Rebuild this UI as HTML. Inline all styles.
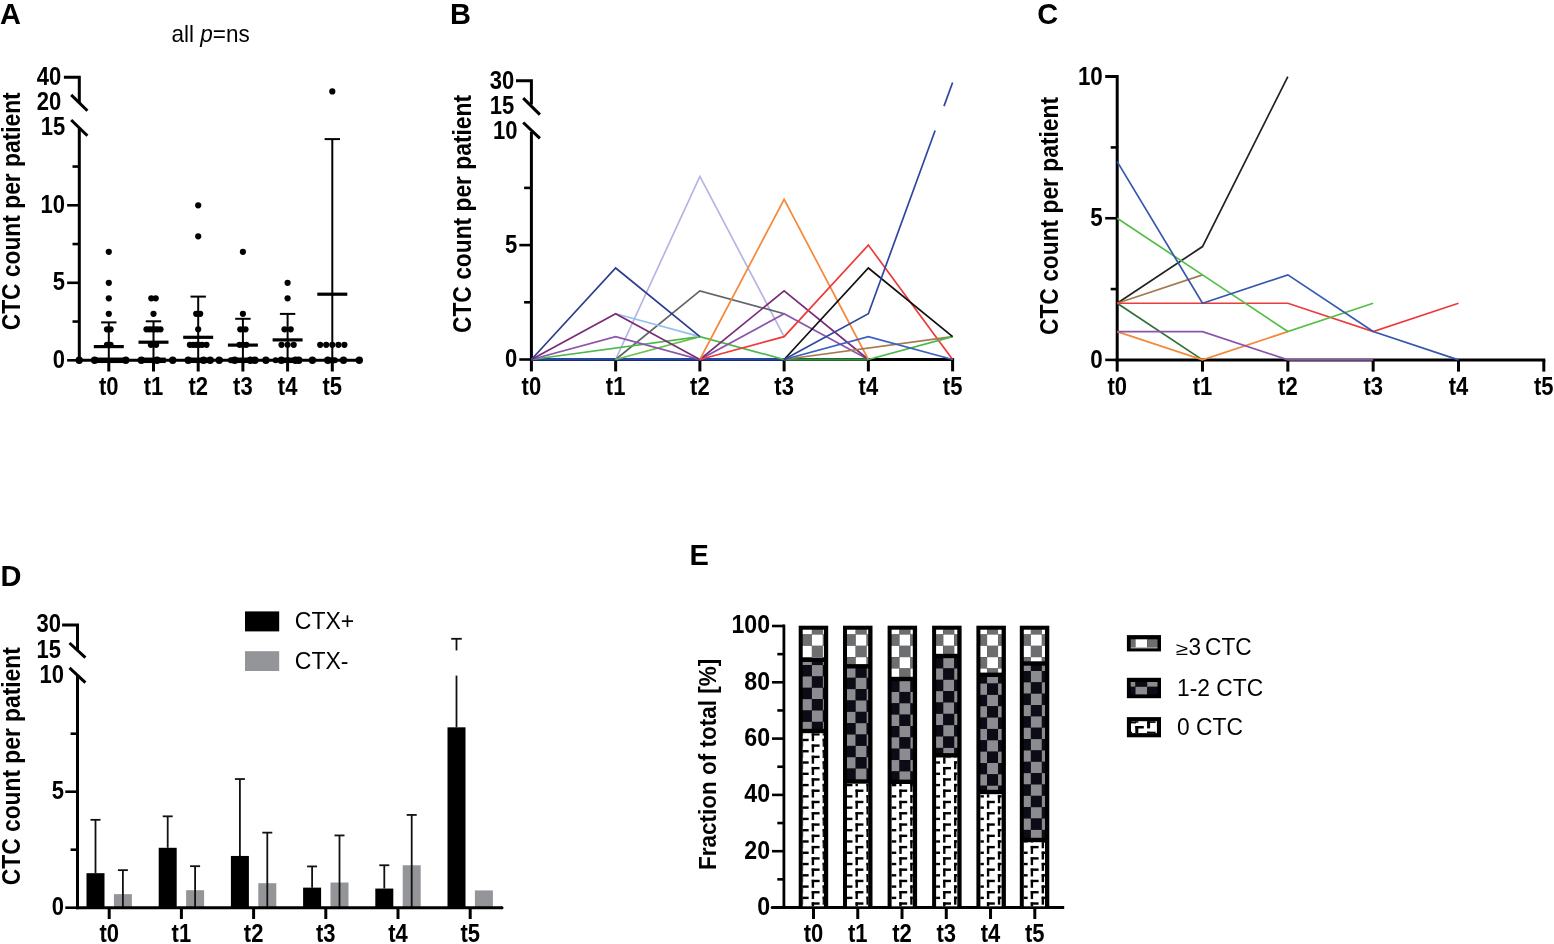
<!DOCTYPE html>
<html><head><meta charset="utf-8"><title>Figure</title>
<style>
html,body{margin:0;padding:0;background:#fff;}
body{width:1554px;height:944px;overflow:hidden;}
svg{display:block;font-family:"Liberation Sans", Arial, Helvetica, sans-serif;}
</style></head>
<body>
<svg width="1554" height="944" viewBox="0 0 1554 944" fill="#000">
<rect x="0" y="0" width="1554" height="944" fill="#fff"/>
<text transform="translate(-0.10,23.90) scale(1,1.02)" font-size="29" font-weight="bold" text-anchor="start" >A</text>
<text transform="translate(450.10,23.90) scale(1,1.02)" font-size="29" font-weight="bold" text-anchor="start" >B</text>
<text transform="translate(1037.20,24.10) scale(1,1.02)" font-size="29" font-weight="bold" text-anchor="start" >C</text>
<text transform="translate(0.60,585.60) scale(1,1.02)" font-size="29" font-weight="bold" text-anchor="start" >D</text>
<text transform="translate(689.50,564.80) scale(1,1.02)" font-size="29" font-weight="bold" text-anchor="start" >E</text>
<text transform="translate(171.6,42.2) scale(1,1.04)" font-size="22.5" text-anchor="start">all <tspan font-style="italic">p</tspan>=ns</text>
<path d="M63.9,77.3 H79.3 V102.7" fill="none" stroke="#000" stroke-width="3" stroke-linejoin="miter"/>
<line x1="79.30" y1="127.80" x2="79.30" y2="361.80" stroke="#000" stroke-width="3" stroke-linecap="butt"/>
<line x1="71.20" y1="94.90" x2="87.40" y2="110.70" stroke="#000" stroke-width="3" stroke-linecap="butt"/>
<line x1="71.20" y1="120.00" x2="87.40" y2="135.80" stroke="#000" stroke-width="3" stroke-linecap="butt"/>
<line x1="67.10" y1="360.30" x2="79.30" y2="360.30" stroke="#000" stroke-width="2.6" stroke-linecap="butt"/>
<line x1="67.10" y1="282.80" x2="79.30" y2="282.80" stroke="#000" stroke-width="2.6" stroke-linecap="butt"/>
<line x1="67.10" y1="205.30" x2="79.30" y2="205.30" stroke="#000" stroke-width="2.6" stroke-linecap="butt"/>
<line x1="72.50" y1="321.55" x2="79.30" y2="321.55" stroke="#000" stroke-width="2.6" stroke-linecap="butt"/>
<line x1="72.50" y1="244.05" x2="79.30" y2="244.05" stroke="#000" stroke-width="2.6" stroke-linecap="butt"/>
<line x1="72.50" y1="166.55" x2="79.30" y2="166.55" stroke="#000" stroke-width="2.6" stroke-linecap="butt"/>
<text transform="translate(65.00,367.70) scale(1,1.13)" font-size="22" font-weight="bold" text-anchor="end" >0</text>
<text transform="translate(65.00,290.20) scale(1,1.13)" font-size="22" font-weight="bold" text-anchor="end" >5</text>
<text transform="translate(65.00,212.70) scale(1,1.13)" font-size="22" font-weight="bold" text-anchor="end" >10</text>
<text transform="translate(65.30,134.90) scale(1,1.13)" font-size="22" font-weight="bold" text-anchor="end" >15</text>
<text transform="translate(61.30,109.90) scale(1,1.13)" font-size="22" font-weight="bold" text-anchor="end" >20</text>
<text transform="translate(61.30,84.70) scale(1,1.13)" font-size="22" font-weight="bold" text-anchor="end" >40</text>
<line x1="77.80" y1="360.30" x2="361.00" y2="360.30" stroke="#000" stroke-width="3" stroke-linecap="butt"/>
<line x1="108.80" y1="360.30" x2="108.80" y2="371.50" stroke="#000" stroke-width="3" stroke-linecap="butt"/>
<text transform="translate(108.80,395.20) scale(1,1.13)" font-size="22" font-weight="bold" text-anchor="middle" >t0</text>
<line x1="153.50" y1="360.30" x2="153.50" y2="371.50" stroke="#000" stroke-width="3" stroke-linecap="butt"/>
<text transform="translate(153.50,395.20) scale(1,1.13)" font-size="22" font-weight="bold" text-anchor="middle" >t1</text>
<line x1="198.20" y1="360.30" x2="198.20" y2="371.50" stroke="#000" stroke-width="3" stroke-linecap="butt"/>
<text transform="translate(198.20,395.20) scale(1,1.13)" font-size="22" font-weight="bold" text-anchor="middle" >t2</text>
<line x1="242.90" y1="360.30" x2="242.90" y2="371.50" stroke="#000" stroke-width="3" stroke-linecap="butt"/>
<text transform="translate(242.90,395.20) scale(1,1.13)" font-size="22" font-weight="bold" text-anchor="middle" >t3</text>
<line x1="287.60" y1="360.30" x2="287.60" y2="371.50" stroke="#000" stroke-width="3" stroke-linecap="butt"/>
<text transform="translate(287.60,395.20) scale(1,1.13)" font-size="22" font-weight="bold" text-anchor="middle" >t4</text>
<line x1="332.30" y1="360.30" x2="332.30" y2="371.50" stroke="#000" stroke-width="3" stroke-linecap="butt"/>
<text transform="translate(332.30,395.20) scale(1,1.13)" font-size="22" font-weight="bold" text-anchor="middle" >t5</text>
<text transform="translate(19.80,211.30) rotate(-90) scale(1,1.1)" font-size="22.8" font-weight="bold" text-anchor="middle">CTC count per patient</text>
<line x1="108.80" y1="322.40" x2="108.80" y2="360.30" stroke="#000" stroke-width="2" stroke-linecap="butt"/>
<line x1="101.10" y1="322.40" x2="116.50" y2="322.40" stroke="#000" stroke-width="2" stroke-linecap="butt"/>
<line x1="93.80" y1="346.60" x2="123.80" y2="346.60" stroke="#000" stroke-width="3.2" stroke-linecap="butt"/>
<line x1="153.50" y1="321.30" x2="153.50" y2="360.30" stroke="#000" stroke-width="2" stroke-linecap="butt"/>
<line x1="145.80" y1="321.30" x2="161.20" y2="321.30" stroke="#000" stroke-width="2" stroke-linecap="butt"/>
<line x1="138.50" y1="342.20" x2="168.50" y2="342.20" stroke="#000" stroke-width="3.2" stroke-linecap="butt"/>
<line x1="198.20" y1="296.60" x2="198.20" y2="360.30" stroke="#000" stroke-width="2" stroke-linecap="butt"/>
<line x1="190.50" y1="296.60" x2="205.90" y2="296.60" stroke="#000" stroke-width="2" stroke-linecap="butt"/>
<line x1="183.20" y1="337.30" x2="213.20" y2="337.30" stroke="#000" stroke-width="3.2" stroke-linecap="butt"/>
<line x1="242.90" y1="318.80" x2="242.90" y2="360.30" stroke="#000" stroke-width="2" stroke-linecap="butt"/>
<line x1="235.20" y1="318.80" x2="250.60" y2="318.80" stroke="#000" stroke-width="2" stroke-linecap="butt"/>
<line x1="227.90" y1="345.10" x2="257.90" y2="345.10" stroke="#000" stroke-width="3.2" stroke-linecap="butt"/>
<line x1="287.60" y1="313.90" x2="287.60" y2="360.30" stroke="#000" stroke-width="2" stroke-linecap="butt"/>
<line x1="279.90" y1="313.90" x2="295.30" y2="313.90" stroke="#000" stroke-width="2" stroke-linecap="butt"/>
<line x1="272.60" y1="339.90" x2="302.60" y2="339.90" stroke="#000" stroke-width="3.2" stroke-linecap="butt"/>
<line x1="332.30" y1="139.10" x2="332.30" y2="360.30" stroke="#000" stroke-width="2" stroke-linecap="butt"/>
<line x1="324.60" y1="139.10" x2="340.00" y2="139.10" stroke="#000" stroke-width="2" stroke-linecap="butt"/>
<line x1="317.30" y1="294.20" x2="347.30" y2="294.20" stroke="#000" stroke-width="3.2" stroke-linecap="butt"/>
<circle cx="108.80" cy="251.80" r="3.1"/>
<circle cx="108.80" cy="282.80" r="3.1"/>
<circle cx="108.80" cy="298.30" r="3.1"/>
<circle cx="108.80" cy="313.80" r="3.1"/>
<circle cx="107.00" cy="329.30" r="3.1"/>
<circle cx="110.60" cy="329.30" r="3.1"/>
<circle cx="107.00" cy="344.80" r="3.1"/>
<circle cx="110.60" cy="344.80" r="3.1"/>
<circle cx="151.30" cy="298.30" r="3.1"/>
<circle cx="155.70" cy="298.30" r="3.1"/>
<circle cx="153.50" cy="313.80" r="3.1"/>
<circle cx="146.50" cy="329.30" r="3.1"/>
<circle cx="149.50" cy="329.30" r="3.1"/>
<circle cx="152.50" cy="329.30" r="3.1"/>
<circle cx="154.50" cy="329.30" r="3.1"/>
<circle cx="157.50" cy="329.30" r="3.1"/>
<circle cx="160.50" cy="329.30" r="3.1"/>
<circle cx="150.90" cy="344.80" r="3.1"/>
<circle cx="156.10" cy="344.80" r="3.1"/>
<circle cx="198.20" cy="205.30" r="3.1"/>
<circle cx="198.20" cy="236.30" r="3.1"/>
<circle cx="196.20" cy="313.80" r="3.1"/>
<circle cx="200.20" cy="313.80" r="3.1"/>
<circle cx="198.20" cy="329.30" r="3.1"/>
<circle cx="189.90" cy="344.80" r="3.1"/>
<circle cx="193.20" cy="344.80" r="3.1"/>
<circle cx="196.20" cy="344.80" r="3.1"/>
<circle cx="199.20" cy="344.80" r="3.1"/>
<circle cx="202.20" cy="344.80" r="3.1"/>
<circle cx="206.50" cy="344.80" r="3.1"/>
<circle cx="242.90" cy="251.80" r="3.1"/>
<circle cx="242.90" cy="313.80" r="3.1"/>
<circle cx="240.30" cy="329.30" r="3.1"/>
<circle cx="245.50" cy="329.30" r="3.1"/>
<circle cx="239.50" cy="344.80" r="3.1"/>
<circle cx="242.90" cy="344.80" r="3.1"/>
<circle cx="246.30" cy="344.80" r="3.1"/>
<circle cx="287.60" cy="282.80" r="3.1"/>
<circle cx="287.60" cy="298.30" r="3.1"/>
<circle cx="284.50" cy="329.30" r="3.1"/>
<circle cx="290.70" cy="329.30" r="3.1"/>
<circle cx="281.50" cy="344.80" r="3.1"/>
<circle cx="287.60" cy="344.80" r="3.1"/>
<circle cx="293.70" cy="344.80" r="3.1"/>
<circle cx="320.20" cy="344.80" r="3.1"/>
<circle cx="326.20" cy="344.80" r="3.1"/>
<circle cx="332.30" cy="344.80" r="3.1"/>
<circle cx="338.40" cy="344.80" r="3.1"/>
<circle cx="344.40" cy="344.80" r="3.1"/>
<circle cx="332.30" cy="91.40" r="3.1"/>
<circle cx="79.20" cy="360.30" r="3.7"/>
<circle cx="94.60" cy="360.30" r="3.7"/>
<circle cx="125.80" cy="360.30" r="3.7"/>
<circle cx="141.30" cy="360.30" r="3.7"/>
<circle cx="157.00" cy="360.30" r="3.7"/>
<circle cx="172.70" cy="360.30" r="3.7"/>
<circle cx="188.20" cy="360.30" r="3.7"/>
<circle cx="203.60" cy="360.30" r="3.7"/>
<circle cx="210.20" cy="360.30" r="3.7"/>
<circle cx="219.20" cy="360.30" r="3.7"/>
<circle cx="234.70" cy="360.30" r="3.7"/>
<circle cx="250.40" cy="360.30" r="3.7"/>
<circle cx="254.90" cy="360.30" r="3.7"/>
<circle cx="265.90" cy="360.30" r="3.7"/>
<circle cx="281.30" cy="360.30" r="3.7"/>
<circle cx="295.50" cy="360.30" r="3.7"/>
<circle cx="298.80" cy="360.30" r="3.7"/>
<circle cx="312.40" cy="360.30" r="3.7"/>
<circle cx="327.80" cy="360.30" r="3.7"/>
<circle cx="343.50" cy="360.30" r="3.7"/>
<circle cx="359.30" cy="360.30" r="3.7"/>
<circle cx="230.80" cy="360.30" r="3.0"/>
<circle cx="275.60" cy="360.30" r="3.0"/>
<circle cx="287.60" cy="360.30" r="3.0"/>
<circle cx="334.90" cy="360.30" r="3.0"/>
<rect x="94.60" y="357.55" width="31.20" height="5.50" fill="#000"/>
<rect x="141.30" y="357.55" width="24.40" height="5.50" fill="#000"/>
<rect x="188.20" y="357.55" width="22.00" height="5.50" fill="#000"/>
<rect x="230.80" y="357.55" width="24.10" height="5.50" fill="#000"/>
<rect x="281.30" y="357.55" width="17.50" height="5.50" fill="#000"/>
<rect x="327.80" y="357.55" width="7.10" height="5.50" fill="#000"/>
<text transform="translate(471.00,214.00) rotate(-90) scale(1,1.1)" font-size="22.8" font-weight="bold" text-anchor="middle">CTC count per patient</text>
<line x1="519.30" y1="359.50" x2="531.40" y2="359.50" stroke="#000" stroke-width="2.6" stroke-linecap="butt"/>
<line x1="519.30" y1="245.10" x2="531.40" y2="245.10" stroke="#000" stroke-width="2.6" stroke-linecap="butt"/>
<line x1="524.10" y1="302.30" x2="531.40" y2="302.30" stroke="#000" stroke-width="2.6" stroke-linecap="butt"/>
<line x1="524.10" y1="187.90" x2="531.40" y2="187.90" stroke="#000" stroke-width="2.6" stroke-linecap="butt"/>
<text transform="translate(517.20,367.20) scale(1,1.13)" font-size="22" font-weight="bold" text-anchor="end" >0</text>
<text transform="translate(517.20,252.80) scale(1,1.13)" font-size="22" font-weight="bold" text-anchor="end" >5</text>
<text transform="translate(517.40,138.70) scale(1,1.13)" font-size="22" font-weight="bold" text-anchor="end" >10</text>
<text transform="translate(514.30,113.90) scale(1,1.13)" font-size="22" font-weight="bold" text-anchor="end" >15</text>
<text transform="translate(514.30,88.80) scale(1,1.13)" font-size="22" font-weight="bold" text-anchor="end" >30</text>
<text transform="translate(531.40,394.90) scale(1,1.13)" font-size="22" font-weight="bold" text-anchor="middle" >t0</text>
<text transform="translate(615.64,394.90) scale(1,1.13)" font-size="22" font-weight="bold" text-anchor="middle" >t1</text>
<text transform="translate(699.88,394.90) scale(1,1.13)" font-size="22" font-weight="bold" text-anchor="middle" >t2</text>
<text transform="translate(784.12,394.90) scale(1,1.13)" font-size="22" font-weight="bold" text-anchor="middle" >t3</text>
<text transform="translate(868.36,394.90) scale(1,1.13)" font-size="22" font-weight="bold" text-anchor="middle" >t4</text>
<text transform="translate(952.60,394.90) scale(1,1.13)" font-size="22" font-weight="bold" text-anchor="middle" >t5</text>
<path d="M516,80.7 H531.4 V104.5" fill="none" stroke="#000" stroke-width="3" stroke-linejoin="miter"/>
<line x1="531.40" y1="132.00" x2="531.40" y2="361.00" stroke="#000" stroke-width="3" stroke-linecap="butt"/>
<line x1="523.20" y1="98.10" x2="539.90" y2="114.60" stroke="#000" stroke-width="3" stroke-linecap="butt"/>
<line x1="523.20" y1="122.50" x2="539.90" y2="138.40" stroke="#000" stroke-width="3" stroke-linecap="butt"/>
<line x1="529.90" y1="359.50" x2="954.10" y2="359.50" stroke="#000" stroke-width="3" stroke-linecap="butt"/>
<line x1="531.40" y1="359.50" x2="531.40" y2="371.40" stroke="#000" stroke-width="3" stroke-linecap="butt"/>
<line x1="615.64" y1="359.50" x2="615.64" y2="371.40" stroke="#000" stroke-width="3" stroke-linecap="butt"/>
<line x1="699.88" y1="359.50" x2="699.88" y2="371.40" stroke="#000" stroke-width="3" stroke-linecap="butt"/>
<line x1="784.12" y1="359.50" x2="784.12" y2="371.40" stroke="#000" stroke-width="3" stroke-linecap="butt"/>
<line x1="868.36" y1="359.50" x2="868.36" y2="371.40" stroke="#000" stroke-width="3" stroke-linecap="butt"/>
<line x1="952.60" y1="359.50" x2="952.60" y2="371.40" stroke="#000" stroke-width="3" stroke-linecap="butt"/>
<polyline points="531.40,359.30 784.12,359.30" fill="none" stroke="#24479E" stroke-width="2.6" stroke-linejoin="miter" stroke-linecap="butt"/>
<polyline points="531.40,360.50 784.12,360.50" fill="none" stroke="#1B2A6E" stroke-width="1.0" stroke-linejoin="miter" stroke-linecap="butt"/>
<polyline points="784.12,359.50 868.36,359.50" fill="none" stroke="#2E8B3E" stroke-width="2.4" stroke-linejoin="miter" stroke-linecap="butt"/>
<polyline points="615.64,359.50 699.88,176.46 784.12,336.62" fill="none" stroke="#B5B5E3" stroke-width="1.7" stroke-linejoin="miter" stroke-linecap="butt"/>
<polyline points="615.64,359.50 699.88,290.86 784.12,313.74" fill="none" stroke="#5F6566" stroke-width="1.7" stroke-linejoin="miter" stroke-linecap="butt"/>
<polyline points="615.64,359.50 699.88,336.62" fill="none" stroke="#6DC14C" stroke-width="1.7" stroke-linejoin="miter" stroke-linecap="butt"/>
<polyline points="531.40,359.50 699.88,336.62 784.12,359.50" fill="none" stroke="#4CB84C" stroke-width="1.7" stroke-linejoin="miter" stroke-linecap="butt"/>
<polyline points="615.64,313.74 699.88,336.62" fill="none" stroke="#92C1EC" stroke-width="1.7" stroke-linejoin="miter" stroke-linecap="butt"/>
<polyline points="531.40,359.50 615.64,336.62 699.88,359.50 784.12,313.74 868.36,359.50" fill="none" stroke="#8A55AB" stroke-width="1.7" stroke-linejoin="miter" stroke-linecap="butt"/>
<polyline points="531.40,359.50 615.64,313.74 699.88,359.50 784.12,290.86 868.36,359.50" fill="none" stroke="#7A2C78" stroke-width="1.7" stroke-linejoin="miter" stroke-linecap="butt"/>
<polyline points="531.40,359.50 615.64,267.98 699.88,336.62" fill="none" stroke="#2E3C8E" stroke-width="1.7" stroke-linejoin="miter" stroke-linecap="butt"/>
<polyline points="699.88,359.50 784.12,199.34 868.36,359.50" fill="none" stroke="#F4883A" stroke-width="1.7" stroke-linejoin="miter" stroke-linecap="butt"/>
<polyline points="699.88,359.50 784.12,336.62 868.36,245.10 952.60,359.50" fill="none" stroke="#EE3A3A" stroke-width="1.7" stroke-linejoin="miter" stroke-linecap="butt"/>
<polyline points="784.12,359.50 952.60,336.62" fill="none" stroke="#A37A4E" stroke-width="1.7" stroke-linejoin="miter" stroke-linecap="butt"/>
<polyline points="868.36,359.50 952.60,336.62" fill="none" stroke="#4CB84C" stroke-width="1.7" stroke-linejoin="miter" stroke-linecap="butt"/>
<polyline points="784.12,359.50 868.36,336.62 952.60,359.50" fill="none" stroke="#3A5FBE" stroke-width="1.7" stroke-linejoin="miter" stroke-linecap="butt"/>
<polyline points="784.12,359.50 868.36,267.98 952.60,336.62" fill="none" stroke="#111111" stroke-width="1.7" stroke-linejoin="miter" stroke-linecap="butt"/>
<polyline points="784.12,359.50 868.36,313.74 935.11,130.50" fill="none" stroke="#3047A0" stroke-width="1.7" stroke-linejoin="miter" stroke-linecap="butt"/>
<polyline points="944.00,106.10 952.60,82.50" fill="none" stroke="#3047A0" stroke-width="1.7" stroke-linejoin="miter" stroke-linecap="butt"/>
<text transform="translate(1057.80,216.00) rotate(-90) scale(1,1.1)" font-size="22.8" font-weight="bold" text-anchor="middle">CTC count per patient</text>
<path d="M1105.2,76.60000000000002 H1117.2 V361.4" fill="none" stroke="#000" stroke-width="3" stroke-linejoin="miter"/>
<line x1="1105.20" y1="359.90" x2="1117.20" y2="359.90" stroke="#000" stroke-width="2.6" stroke-linecap="butt"/>
<line x1="1105.20" y1="218.25" x2="1117.20" y2="218.25" stroke="#000" stroke-width="2.6" stroke-linecap="butt"/>
<line x1="1110.70" y1="289.07" x2="1117.20" y2="289.07" stroke="#000" stroke-width="2.6" stroke-linecap="butt"/>
<line x1="1110.70" y1="147.42" x2="1117.20" y2="147.42" stroke="#000" stroke-width="2.6" stroke-linecap="butt"/>
<text transform="translate(1102.80,368.10) scale(1,1.13)" font-size="22.4" font-weight="bold" text-anchor="end" >0</text>
<text transform="translate(1102.80,226.45) scale(1,1.13)" font-size="22.4" font-weight="bold" text-anchor="end" >5</text>
<text transform="translate(1102.80,84.80) scale(1,1.13)" font-size="22.4" font-weight="bold" text-anchor="end" >10</text>
<line x1="1115.70" y1="359.90" x2="1545.30" y2="359.90" stroke="#000" stroke-width="3" stroke-linecap="butt"/>
<line x1="1117.20" y1="359.90" x2="1117.20" y2="371.60" stroke="#000" stroke-width="3" stroke-linecap="butt"/>
<text transform="translate(1117.20,394.90) scale(1,1.13)" font-size="22" font-weight="bold" text-anchor="middle" >t0</text>
<line x1="1202.52" y1="359.90" x2="1202.52" y2="371.60" stroke="#000" stroke-width="3" stroke-linecap="butt"/>
<text transform="translate(1202.52,394.90) scale(1,1.13)" font-size="22" font-weight="bold" text-anchor="middle" >t1</text>
<line x1="1287.84" y1="359.90" x2="1287.84" y2="371.60" stroke="#000" stroke-width="3" stroke-linecap="butt"/>
<text transform="translate(1287.84,394.90) scale(1,1.13)" font-size="22" font-weight="bold" text-anchor="middle" >t2</text>
<line x1="1373.16" y1="359.90" x2="1373.16" y2="371.60" stroke="#000" stroke-width="3" stroke-linecap="butt"/>
<text transform="translate(1373.16,394.90) scale(1,1.13)" font-size="22" font-weight="bold" text-anchor="middle" >t3</text>
<line x1="1458.48" y1="359.90" x2="1458.48" y2="371.60" stroke="#000" stroke-width="3" stroke-linecap="butt"/>
<text transform="translate(1458.48,394.90) scale(1,1.13)" font-size="22" font-weight="bold" text-anchor="middle" >t4</text>
<line x1="1543.80" y1="359.90" x2="1543.80" y2="371.60" stroke="#000" stroke-width="3" stroke-linecap="butt"/>
<text transform="translate(1543.80,394.90) scale(1,1.13)" font-size="22" font-weight="bold" text-anchor="middle" >t5</text>
<polyline points="1117.20,303.24 1202.52,246.58 1287.84,76.60" fill="none" stroke="#222222" stroke-width="1.7" stroke-linejoin="miter" stroke-linecap="butt"/>
<polyline points="1117.20,303.24 1202.52,274.91" fill="none" stroke="#A37A4E" stroke-width="1.7" stroke-linejoin="miter" stroke-linecap="butt"/>
<polyline points="1117.20,303.24 1202.52,359.90" fill="none" stroke="#2F6E38" stroke-width="1.7" stroke-linejoin="miter" stroke-linecap="butt"/>
<polyline points="1117.20,331.57 1202.52,359.90 1287.84,331.57" fill="none" stroke="#F4883A" stroke-width="1.7" stroke-linejoin="miter" stroke-linecap="butt"/>
<polyline points="1117.20,331.57 1202.52,331.57 1287.84,359.90 1373.16,359.90" fill="none" stroke="#8A55AB" stroke-width="1.7" stroke-linejoin="miter" stroke-linecap="butt"/>
<polyline points="1117.20,303.24 1202.52,303.24 1287.84,303.24 1373.16,331.57 1458.48,303.24" fill="none" stroke="#EE3A3A" stroke-width="1.7" stroke-linejoin="miter" stroke-linecap="butt"/>
<polyline points="1117.20,218.25 1202.52,274.91 1287.84,331.57 1373.16,303.24" fill="none" stroke="#55BE47" stroke-width="1.7" stroke-linejoin="miter" stroke-linecap="butt"/>
<polyline points="1117.20,161.59 1202.52,303.24 1287.84,274.91 1373.16,331.57 1458.48,359.90" fill="none" stroke="#3756AE" stroke-width="1.7" stroke-linejoin="miter" stroke-linecap="butt"/>
<text transform="translate(19.60,766.20) rotate(-90) scale(1,1.1)" font-size="22.8" font-weight="bold" text-anchor="middle">CTC count per patient</text>
<path d="M62.1,625 H77.5 V650.6" fill="none" stroke="#000" stroke-width="3" stroke-linejoin="miter"/>
<line x1="77.50" y1="675.50" x2="77.50" y2="909.20" stroke="#000" stroke-width="3" stroke-linecap="butt"/>
<line x1="69.50" y1="643.00" x2="85.40" y2="657.60" stroke="#000" stroke-width="3" stroke-linecap="butt"/>
<line x1="69.50" y1="667.80" x2="85.40" y2="682.60" stroke="#000" stroke-width="3" stroke-linecap="butt"/>
<line x1="65.30" y1="907.70" x2="77.50" y2="907.70" stroke="#000" stroke-width="2.6" stroke-linecap="butt"/>
<line x1="65.30" y1="791.70" x2="77.50" y2="791.70" stroke="#000" stroke-width="2.6" stroke-linecap="butt"/>
<line x1="70.60" y1="849.70" x2="77.50" y2="849.70" stroke="#000" stroke-width="2.6" stroke-linecap="butt"/>
<line x1="70.60" y1="733.70" x2="77.50" y2="733.70" stroke="#000" stroke-width="2.6" stroke-linecap="butt"/>
<text transform="translate(64.00,915.10) scale(1,1.13)" font-size="22" font-weight="bold" text-anchor="end" >0</text>
<text transform="translate(64.00,799.10) scale(1,1.13)" font-size="22" font-weight="bold" text-anchor="end" >5</text>
<text transform="translate(64.00,682.70) scale(1,1.13)" font-size="22" font-weight="bold" text-anchor="end" >10</text>
<text transform="translate(61.00,657.90) scale(1,1.13)" font-size="22" font-weight="bold" text-anchor="end" >15</text>
<text transform="translate(61.00,632.40) scale(1,1.13)" font-size="22" font-weight="bold" text-anchor="end" >30</text>
<rect x="86.50" y="873.18" width="18.00" height="34.52" fill="#000"/>
<line x1="95.50" y1="819.83" x2="95.50" y2="873.18" stroke="#111" stroke-width="1.8" stroke-linecap="butt"/>
<line x1="90.50" y1="819.83" x2="100.50" y2="819.83" stroke="#111" stroke-width="1.8" stroke-linecap="butt"/>
<rect x="113.90" y="894.15" width="18.00" height="13.55" fill="#939598"/>
<line x1="122.90" y1="870.15" x2="122.90" y2="907.70" stroke="#111" stroke-width="1.8" stroke-linecap="butt"/>
<line x1="117.90" y1="870.15" x2="127.90" y2="870.15" stroke="#111" stroke-width="1.8" stroke-linecap="butt"/>
<rect x="158.70" y="847.79" width="18.00" height="59.91" fill="#000"/>
<line x1="167.70" y1="816.33" x2="167.70" y2="847.79" stroke="#111" stroke-width="1.8" stroke-linecap="butt"/>
<line x1="162.70" y1="816.33" x2="172.70" y2="816.33" stroke="#111" stroke-width="1.8" stroke-linecap="butt"/>
<rect x="186.10" y="890.19" width="18.00" height="17.51" fill="#939598"/>
<line x1="195.10" y1="866.19" x2="195.10" y2="907.70" stroke="#111" stroke-width="1.8" stroke-linecap="butt"/>
<line x1="190.10" y1="866.19" x2="200.10" y2="866.19" stroke="#111" stroke-width="1.8" stroke-linecap="butt"/>
<rect x="230.90" y="855.94" width="18.00" height="51.76" fill="#000"/>
<line x1="239.90" y1="779.05" x2="239.90" y2="855.94" stroke="#111" stroke-width="1.8" stroke-linecap="butt"/>
<line x1="234.90" y1="779.05" x2="244.90" y2="779.05" stroke="#111" stroke-width="1.8" stroke-linecap="butt"/>
<rect x="258.30" y="883.20" width="18.00" height="24.50" fill="#939598"/>
<line x1="267.30" y1="832.64" x2="267.30" y2="907.70" stroke="#111" stroke-width="1.8" stroke-linecap="butt"/>
<line x1="262.30" y1="832.64" x2="272.30" y2="832.64" stroke="#111" stroke-width="1.8" stroke-linecap="butt"/>
<rect x="303.10" y="887.63" width="18.00" height="20.07" fill="#000"/>
<line x1="312.10" y1="866.43" x2="312.10" y2="887.63" stroke="#111" stroke-width="1.8" stroke-linecap="butt"/>
<line x1="307.10" y1="866.43" x2="317.10" y2="866.43" stroke="#111" stroke-width="1.8" stroke-linecap="butt"/>
<rect x="330.50" y="882.50" width="18.00" height="25.20" fill="#939598"/>
<line x1="339.50" y1="835.44" x2="339.50" y2="907.70" stroke="#111" stroke-width="1.8" stroke-linecap="butt"/>
<line x1="334.50" y1="835.44" x2="344.50" y2="835.44" stroke="#111" stroke-width="1.8" stroke-linecap="butt"/>
<rect x="375.30" y="888.56" width="18.00" height="19.14" fill="#000"/>
<line x1="384.30" y1="865.26" x2="384.30" y2="888.56" stroke="#111" stroke-width="1.8" stroke-linecap="butt"/>
<line x1="379.30" y1="865.26" x2="389.30" y2="865.26" stroke="#111" stroke-width="1.8" stroke-linecap="butt"/>
<rect x="402.70" y="865.26" width="18.00" height="42.44" fill="#939598"/>
<line x1="411.70" y1="814.93" x2="411.70" y2="907.70" stroke="#111" stroke-width="1.8" stroke-linecap="butt"/>
<line x1="406.70" y1="814.93" x2="416.70" y2="814.93" stroke="#111" stroke-width="1.8" stroke-linecap="butt"/>
<rect x="447.50" y="727.32" width="18.00" height="180.38" fill="#000"/>
<rect x="474.90" y="890.42" width="18.00" height="17.28" fill="#939598"/>
<line x1="456.50" y1="675.60" x2="456.50" y2="727.32" stroke="#111" stroke-width="1.8" stroke-linecap="butt"/>
<line x1="456.50" y1="638.80" x2="456.50" y2="650.40" stroke="#111" stroke-width="1.8" stroke-linecap="butt"/>
<line x1="451.20" y1="638.80" x2="461.80" y2="638.80" stroke="#111" stroke-width="1.8" stroke-linecap="butt"/>
<line x1="76.00" y1="907.70" x2="502.00" y2="907.70" stroke="#000" stroke-width="3" stroke-linecap="butt"/>
<circle cx="502.00" cy="907.70" r="1.5"/>
<line x1="109.20" y1="907.70" x2="109.20" y2="919.00" stroke="#000" stroke-width="3" stroke-linecap="butt"/>
<text transform="translate(109.20,942.20) scale(1,1.13)" font-size="22" font-weight="bold" text-anchor="middle" >t0</text>
<line x1="181.40" y1="907.70" x2="181.40" y2="919.00" stroke="#000" stroke-width="3" stroke-linecap="butt"/>
<text transform="translate(181.40,942.20) scale(1,1.13)" font-size="22" font-weight="bold" text-anchor="middle" >t1</text>
<line x1="253.60" y1="907.70" x2="253.60" y2="919.00" stroke="#000" stroke-width="3" stroke-linecap="butt"/>
<text transform="translate(253.60,942.20) scale(1,1.13)" font-size="22" font-weight="bold" text-anchor="middle" >t2</text>
<line x1="325.80" y1="907.70" x2="325.80" y2="919.00" stroke="#000" stroke-width="3" stroke-linecap="butt"/>
<text transform="translate(325.80,942.20) scale(1,1.13)" font-size="22" font-weight="bold" text-anchor="middle" >t3</text>
<line x1="398.00" y1="907.70" x2="398.00" y2="919.00" stroke="#000" stroke-width="3" stroke-linecap="butt"/>
<text transform="translate(398.00,942.20) scale(1,1.13)" font-size="22" font-weight="bold" text-anchor="middle" >t4</text>
<line x1="470.20" y1="907.70" x2="470.20" y2="919.00" stroke="#000" stroke-width="3" stroke-linecap="butt"/>
<text transform="translate(470.20,942.20) scale(1,1.13)" font-size="22" font-weight="bold" text-anchor="middle" >t5</text>
<rect x="245.00" y="611.40" width="34.20" height="20.00" fill="#000"/>
<rect x="245.00" y="651.20" width="34.20" height="19.80" fill="#939598"/>
<text transform="translate(294.80,629.40) scale(1,1.08)" font-size="23" font-weight="normal" text-anchor="start" >CTX+</text>
<text transform="translate(294.80,669.00) scale(1,1.08)" font-size="23" font-weight="normal" text-anchor="start" >CTX-</text>
<text transform="translate(715.60,764.35) rotate(-90) scale(1,1.1)" font-size="22.5" font-weight="bold" text-anchor="middle">Fraction of total [%]</text>
<line x1="772.00" y1="907.50" x2="783.90" y2="907.50" stroke="#000" stroke-width="2.6" stroke-linecap="butt"/>
<text transform="translate(770.10,914.90) scale(1,1.13)" font-size="23.2" font-weight="bold" text-anchor="end" >0</text>
<line x1="772.00" y1="851.20" x2="783.90" y2="851.20" stroke="#000" stroke-width="2.6" stroke-linecap="butt"/>
<text transform="translate(770.10,858.60) scale(1,1.13)" font-size="23.2" font-weight="bold" text-anchor="end" >20</text>
<line x1="772.00" y1="794.90" x2="783.90" y2="794.90" stroke="#000" stroke-width="2.6" stroke-linecap="butt"/>
<text transform="translate(770.10,802.30) scale(1,1.13)" font-size="23.2" font-weight="bold" text-anchor="end" >40</text>
<line x1="772.00" y1="738.60" x2="783.90" y2="738.60" stroke="#000" stroke-width="2.6" stroke-linecap="butt"/>
<text transform="translate(770.10,746.00) scale(1,1.13)" font-size="23.2" font-weight="bold" text-anchor="end" >60</text>
<line x1="772.00" y1="682.30" x2="783.90" y2="682.30" stroke="#000" stroke-width="2.6" stroke-linecap="butt"/>
<text transform="translate(770.10,689.70) scale(1,1.13)" font-size="23.2" font-weight="bold" text-anchor="end" >80</text>
<line x1="772.00" y1="626.00" x2="783.90" y2="626.00" stroke="#000" stroke-width="2.6" stroke-linecap="butt"/>
<text transform="translate(770.10,633.40) scale(1,1.13)" font-size="23.2" font-weight="bold" text-anchor="end" >100</text>
<line x1="777.30" y1="879.35" x2="783.90" y2="879.35" stroke="#000" stroke-width="2.6" stroke-linecap="butt"/>
<line x1="777.30" y1="823.05" x2="783.90" y2="823.05" stroke="#000" stroke-width="2.6" stroke-linecap="butt"/>
<line x1="777.30" y1="766.75" x2="783.90" y2="766.75" stroke="#000" stroke-width="2.6" stroke-linecap="butt"/>
<line x1="777.30" y1="710.45" x2="783.90" y2="710.45" stroke="#000" stroke-width="2.6" stroke-linecap="butt"/>
<line x1="777.30" y1="654.15" x2="783.90" y2="654.15" stroke="#000" stroke-width="2.6" stroke-linecap="butt"/>
<line x1="783.90" y1="624.60" x2="783.90" y2="907.50" stroke="#000" stroke-width="2.8" stroke-linecap="butt"/>
<line x1="772.20" y1="907.50" x2="1064.20" y2="907.50" stroke="#000" stroke-width="3" stroke-linecap="butt"/>
<circle cx="772.20" cy="907.50" r="1.5"/>
<line x1="813.50" y1="907.50" x2="813.50" y2="919.00" stroke="#000" stroke-width="3" stroke-linecap="butt"/>
<text transform="translate(813.50,942.20) scale(1,1.13)" font-size="22" font-weight="bold" text-anchor="middle" >t0</text>
<line x1="857.76" y1="907.50" x2="857.76" y2="919.00" stroke="#000" stroke-width="3" stroke-linecap="butt"/>
<text transform="translate(857.76,942.20) scale(1,1.13)" font-size="22" font-weight="bold" text-anchor="middle" >t1</text>
<line x1="902.02" y1="907.50" x2="902.02" y2="919.00" stroke="#000" stroke-width="3" stroke-linecap="butt"/>
<text transform="translate(902.02,942.20) scale(1,1.13)" font-size="22" font-weight="bold" text-anchor="middle" >t2</text>
<line x1="946.28" y1="907.50" x2="946.28" y2="919.00" stroke="#000" stroke-width="3" stroke-linecap="butt"/>
<text transform="translate(946.28,942.20) scale(1,1.13)" font-size="22" font-weight="bold" text-anchor="middle" >t3</text>
<line x1="990.54" y1="907.50" x2="990.54" y2="919.00" stroke="#000" stroke-width="3" stroke-linecap="butt"/>
<text transform="translate(990.54,942.20) scale(1,1.13)" font-size="22" font-weight="bold" text-anchor="middle" >t4</text>
<line x1="1034.80" y1="907.50" x2="1034.80" y2="919.00" stroke="#000" stroke-width="3" stroke-linecap="butt"/>
<text transform="translate(1034.80,942.20) scale(1,1.13)" font-size="22" font-weight="bold" text-anchor="middle" >t5</text>
<rect x="798.70" y="625.70" width="29.50" height="281.80" fill="#000"/>
<rect x="802.70" y="629.70" width="9.20" height="4.80" fill="#FFFFFF"/>
<rect x="811.90" y="629.70" width="10.95" height="4.80" fill="#6C6E6F"/>
<rect x="822.85" y="629.70" width="1.05" height="4.80" fill="#FFFFFF"/>
<rect x="802.70" y="634.50" width="9.20" height="11.33" fill="#6C6E6F"/>
<rect x="811.90" y="634.50" width="10.95" height="11.33" fill="#FFFFFF"/>
<rect x="822.85" y="634.50" width="1.05" height="11.33" fill="#6C6E6F"/>
<rect x="802.70" y="645.83" width="9.20" height="11.33" fill="#FFFFFF"/>
<rect x="811.90" y="645.83" width="10.95" height="11.33" fill="#6C6E6F"/>
<rect x="822.85" y="645.83" width="1.05" height="11.33" fill="#FFFFFF"/>
<rect x="802.70" y="657.16" width="9.20" height="0.44" fill="#6C6E6F"/>
<rect x="811.90" y="657.16" width="10.95" height="0.44" fill="#FFFFFF"/>
<rect x="822.85" y="657.16" width="1.05" height="0.44" fill="#6C6E6F"/>
<rect x="802.70" y="662.00" width="9.20" height="3.10" fill="#8A8C90"/>
<rect x="811.90" y="662.00" width="10.95" height="3.10" fill="#0C0B16"/>
<rect x="822.85" y="662.00" width="1.05" height="3.10" fill="#8A8C90"/>
<rect x="802.70" y="665.10" width="9.20" height="11.35" fill="#0C0B16"/>
<rect x="811.90" y="665.10" width="10.95" height="11.35" fill="#8A8C90"/>
<rect x="822.85" y="665.10" width="1.05" height="11.35" fill="#0C0B16"/>
<rect x="802.70" y="676.45" width="9.20" height="11.35" fill="#8A8C90"/>
<rect x="811.90" y="676.45" width="10.95" height="11.35" fill="#0C0B16"/>
<rect x="822.85" y="676.45" width="1.05" height="11.35" fill="#8A8C90"/>
<rect x="802.70" y="687.80" width="9.20" height="11.35" fill="#0C0B16"/>
<rect x="811.90" y="687.80" width="10.95" height="11.35" fill="#8A8C90"/>
<rect x="822.85" y="687.80" width="1.05" height="11.35" fill="#0C0B16"/>
<rect x="802.70" y="699.15" width="9.20" height="11.35" fill="#8A8C90"/>
<rect x="811.90" y="699.15" width="10.95" height="11.35" fill="#0C0B16"/>
<rect x="822.85" y="699.15" width="1.05" height="11.35" fill="#8A8C90"/>
<rect x="802.70" y="710.50" width="9.20" height="11.35" fill="#0C0B16"/>
<rect x="811.90" y="710.50" width="10.95" height="11.35" fill="#8A8C90"/>
<rect x="822.85" y="710.50" width="1.05" height="11.35" fill="#0C0B16"/>
<rect x="802.70" y="721.85" width="9.20" height="6.95" fill="#8A8C90"/>
<rect x="811.90" y="721.85" width="10.95" height="6.95" fill="#0C0B16"/>
<rect x="822.85" y="721.85" width="1.05" height="6.95" fill="#8A8C90"/>
<rect x="802.70" y="733.20" width="21.20" height="173.10" fill="#FFFFFF"/>
<g clip-path="url(#ec0)">
<rect x="800.75" y="727.48" width="2.40" height="8.00" fill="#000"/>
<rect x="800.75" y="727.48" width="7.90" height="2.40" fill="#000"/>
<rect x="800.75" y="738.76" width="2.40" height="8.00" fill="#000"/>
<rect x="800.75" y="738.76" width="7.90" height="2.40" fill="#000"/>
<rect x="800.75" y="750.04" width="2.40" height="8.00" fill="#000"/>
<rect x="800.75" y="750.04" width="7.90" height="2.40" fill="#000"/>
<rect x="800.75" y="761.32" width="2.40" height="8.00" fill="#000"/>
<rect x="800.75" y="761.32" width="7.90" height="2.40" fill="#000"/>
<rect x="800.75" y="772.60" width="2.40" height="8.00" fill="#000"/>
<rect x="800.75" y="772.60" width="7.90" height="2.40" fill="#000"/>
<rect x="800.75" y="783.88" width="2.40" height="8.00" fill="#000"/>
<rect x="800.75" y="783.88" width="7.90" height="2.40" fill="#000"/>
<rect x="800.75" y="795.16" width="2.40" height="8.00" fill="#000"/>
<rect x="800.75" y="795.16" width="7.90" height="2.40" fill="#000"/>
<rect x="800.75" y="806.44" width="2.40" height="8.00" fill="#000"/>
<rect x="800.75" y="806.44" width="7.90" height="2.40" fill="#000"/>
<rect x="800.75" y="817.72" width="2.40" height="8.00" fill="#000"/>
<rect x="800.75" y="817.72" width="7.90" height="2.40" fill="#000"/>
<rect x="800.75" y="829.00" width="2.40" height="8.00" fill="#000"/>
<rect x="800.75" y="829.00" width="7.90" height="2.40" fill="#000"/>
<rect x="800.75" y="840.28" width="2.40" height="8.00" fill="#000"/>
<rect x="800.75" y="840.28" width="7.90" height="2.40" fill="#000"/>
<rect x="800.75" y="851.56" width="2.40" height="8.00" fill="#000"/>
<rect x="800.75" y="851.56" width="7.90" height="2.40" fill="#000"/>
<rect x="800.75" y="862.84" width="2.40" height="8.00" fill="#000"/>
<rect x="800.75" y="862.84" width="7.90" height="2.40" fill="#000"/>
<rect x="800.75" y="874.12" width="2.40" height="8.00" fill="#000"/>
<rect x="800.75" y="874.12" width="7.90" height="2.40" fill="#000"/>
<rect x="800.75" y="885.40" width="2.40" height="8.00" fill="#000"/>
<rect x="800.75" y="885.40" width="7.90" height="2.40" fill="#000"/>
<rect x="800.75" y="896.68" width="2.40" height="8.00" fill="#000"/>
<rect x="800.75" y="896.68" width="7.90" height="2.40" fill="#000"/>
<rect x="811.70" y="721.84" width="2.40" height="8.00" fill="#000"/>
<rect x="811.70" y="721.84" width="7.90" height="2.40" fill="#000"/>
<rect x="811.70" y="733.12" width="2.40" height="8.00" fill="#000"/>
<rect x="811.70" y="733.12" width="7.90" height="2.40" fill="#000"/>
<rect x="811.70" y="744.40" width="2.40" height="8.00" fill="#000"/>
<rect x="811.70" y="744.40" width="7.90" height="2.40" fill="#000"/>
<rect x="811.70" y="755.68" width="2.40" height="8.00" fill="#000"/>
<rect x="811.70" y="755.68" width="7.90" height="2.40" fill="#000"/>
<rect x="811.70" y="766.96" width="2.40" height="8.00" fill="#000"/>
<rect x="811.70" y="766.96" width="7.90" height="2.40" fill="#000"/>
<rect x="811.70" y="778.24" width="2.40" height="8.00" fill="#000"/>
<rect x="811.70" y="778.24" width="7.90" height="2.40" fill="#000"/>
<rect x="811.70" y="789.52" width="2.40" height="8.00" fill="#000"/>
<rect x="811.70" y="789.52" width="7.90" height="2.40" fill="#000"/>
<rect x="811.70" y="800.80" width="2.40" height="8.00" fill="#000"/>
<rect x="811.70" y="800.80" width="7.90" height="2.40" fill="#000"/>
<rect x="811.70" y="812.08" width="2.40" height="8.00" fill="#000"/>
<rect x="811.70" y="812.08" width="7.90" height="2.40" fill="#000"/>
<rect x="811.70" y="823.36" width="2.40" height="8.00" fill="#000"/>
<rect x="811.70" y="823.36" width="7.90" height="2.40" fill="#000"/>
<rect x="811.70" y="834.64" width="2.40" height="8.00" fill="#000"/>
<rect x="811.70" y="834.64" width="7.90" height="2.40" fill="#000"/>
<rect x="811.70" y="845.92" width="2.40" height="8.00" fill="#000"/>
<rect x="811.70" y="845.92" width="7.90" height="2.40" fill="#000"/>
<rect x="811.70" y="857.20" width="2.40" height="8.00" fill="#000"/>
<rect x="811.70" y="857.20" width="7.90" height="2.40" fill="#000"/>
<rect x="811.70" y="868.48" width="2.40" height="8.00" fill="#000"/>
<rect x="811.70" y="868.48" width="7.90" height="2.40" fill="#000"/>
<rect x="811.70" y="879.76" width="2.40" height="8.00" fill="#000"/>
<rect x="811.70" y="879.76" width="7.90" height="2.40" fill="#000"/>
<rect x="811.70" y="891.04" width="2.40" height="8.00" fill="#000"/>
<rect x="811.70" y="891.04" width="7.90" height="2.40" fill="#000"/>
<rect x="811.70" y="902.32" width="2.40" height="8.00" fill="#000"/>
<rect x="811.70" y="902.32" width="7.90" height="2.40" fill="#000"/>
<rect x="822.65" y="727.48" width="2.40" height="8.00" fill="#000"/>
<rect x="822.65" y="727.48" width="7.90" height="2.40" fill="#000"/>
<rect x="822.65" y="738.76" width="2.40" height="8.00" fill="#000"/>
<rect x="822.65" y="738.76" width="7.90" height="2.40" fill="#000"/>
<rect x="822.65" y="750.04" width="2.40" height="8.00" fill="#000"/>
<rect x="822.65" y="750.04" width="7.90" height="2.40" fill="#000"/>
<rect x="822.65" y="761.32" width="2.40" height="8.00" fill="#000"/>
<rect x="822.65" y="761.32" width="7.90" height="2.40" fill="#000"/>
<rect x="822.65" y="772.60" width="2.40" height="8.00" fill="#000"/>
<rect x="822.65" y="772.60" width="7.90" height="2.40" fill="#000"/>
<rect x="822.65" y="783.88" width="2.40" height="8.00" fill="#000"/>
<rect x="822.65" y="783.88" width="7.90" height="2.40" fill="#000"/>
<rect x="822.65" y="795.16" width="2.40" height="8.00" fill="#000"/>
<rect x="822.65" y="795.16" width="7.90" height="2.40" fill="#000"/>
<rect x="822.65" y="806.44" width="2.40" height="8.00" fill="#000"/>
<rect x="822.65" y="806.44" width="7.90" height="2.40" fill="#000"/>
<rect x="822.65" y="817.72" width="2.40" height="8.00" fill="#000"/>
<rect x="822.65" y="817.72" width="7.90" height="2.40" fill="#000"/>
<rect x="822.65" y="829.00" width="2.40" height="8.00" fill="#000"/>
<rect x="822.65" y="829.00" width="7.90" height="2.40" fill="#000"/>
<rect x="822.65" y="840.28" width="2.40" height="8.00" fill="#000"/>
<rect x="822.65" y="840.28" width="7.90" height="2.40" fill="#000"/>
<rect x="822.65" y="851.56" width="2.40" height="8.00" fill="#000"/>
<rect x="822.65" y="851.56" width="7.90" height="2.40" fill="#000"/>
<rect x="822.65" y="862.84" width="2.40" height="8.00" fill="#000"/>
<rect x="822.65" y="862.84" width="7.90" height="2.40" fill="#000"/>
<rect x="822.65" y="874.12" width="2.40" height="8.00" fill="#000"/>
<rect x="822.65" y="874.12" width="7.90" height="2.40" fill="#000"/>
<rect x="822.65" y="885.40" width="2.40" height="8.00" fill="#000"/>
<rect x="822.65" y="885.40" width="7.90" height="2.40" fill="#000"/>
<rect x="822.65" y="896.68" width="2.40" height="8.00" fill="#000"/>
<rect x="822.65" y="896.68" width="7.90" height="2.40" fill="#000"/>
</g>
<rect x="843.00" y="625.70" width="29.50" height="281.80" fill="#000"/>
<rect x="847.00" y="629.70" width="8.70" height="4.80" fill="#FFFFFF"/>
<rect x="855.70" y="629.70" width="10.95" height="4.80" fill="#6C6E6F"/>
<rect x="866.65" y="629.70" width="1.55" height="4.80" fill="#FFFFFF"/>
<rect x="847.00" y="634.50" width="8.70" height="11.33" fill="#6C6E6F"/>
<rect x="855.70" y="634.50" width="10.95" height="11.33" fill="#FFFFFF"/>
<rect x="866.65" y="634.50" width="1.55" height="11.33" fill="#6C6E6F"/>
<rect x="847.00" y="645.83" width="8.70" height="11.33" fill="#FFFFFF"/>
<rect x="855.70" y="645.83" width="10.95" height="11.33" fill="#6C6E6F"/>
<rect x="866.65" y="645.83" width="1.55" height="11.33" fill="#FFFFFF"/>
<rect x="847.00" y="657.16" width="8.70" height="6.94" fill="#6C6E6F"/>
<rect x="855.70" y="657.16" width="10.95" height="6.94" fill="#FFFFFF"/>
<rect x="866.65" y="657.16" width="1.55" height="6.94" fill="#6C6E6F"/>
<rect x="847.00" y="668.50" width="8.70" height="9.30" fill="#8A8C90"/>
<rect x="855.70" y="668.50" width="10.95" height="9.30" fill="#0C0B16"/>
<rect x="866.65" y="668.50" width="1.55" height="9.30" fill="#8A8C90"/>
<rect x="847.00" y="677.80" width="8.70" height="11.35" fill="#0C0B16"/>
<rect x="855.70" y="677.80" width="10.95" height="11.35" fill="#8A8C90"/>
<rect x="866.65" y="677.80" width="1.55" height="11.35" fill="#0C0B16"/>
<rect x="847.00" y="689.15" width="8.70" height="11.35" fill="#8A8C90"/>
<rect x="855.70" y="689.15" width="10.95" height="11.35" fill="#0C0B16"/>
<rect x="866.65" y="689.15" width="1.55" height="11.35" fill="#8A8C90"/>
<rect x="847.00" y="700.50" width="8.70" height="11.35" fill="#0C0B16"/>
<rect x="855.70" y="700.50" width="10.95" height="11.35" fill="#8A8C90"/>
<rect x="866.65" y="700.50" width="1.55" height="11.35" fill="#0C0B16"/>
<rect x="847.00" y="711.85" width="8.70" height="11.35" fill="#8A8C90"/>
<rect x="855.70" y="711.85" width="10.95" height="11.35" fill="#0C0B16"/>
<rect x="866.65" y="711.85" width="1.55" height="11.35" fill="#8A8C90"/>
<rect x="847.00" y="723.20" width="8.70" height="11.35" fill="#0C0B16"/>
<rect x="855.70" y="723.20" width="10.95" height="11.35" fill="#8A8C90"/>
<rect x="866.65" y="723.20" width="1.55" height="11.35" fill="#0C0B16"/>
<rect x="847.00" y="734.55" width="8.70" height="11.35" fill="#8A8C90"/>
<rect x="855.70" y="734.55" width="10.95" height="11.35" fill="#0C0B16"/>
<rect x="866.65" y="734.55" width="1.55" height="11.35" fill="#8A8C90"/>
<rect x="847.00" y="745.90" width="8.70" height="11.35" fill="#0C0B16"/>
<rect x="855.70" y="745.90" width="10.95" height="11.35" fill="#8A8C90"/>
<rect x="866.65" y="745.90" width="1.55" height="11.35" fill="#0C0B16"/>
<rect x="847.00" y="757.25" width="8.70" height="11.35" fill="#8A8C90"/>
<rect x="855.70" y="757.25" width="10.95" height="11.35" fill="#0C0B16"/>
<rect x="866.65" y="757.25" width="1.55" height="11.35" fill="#8A8C90"/>
<rect x="847.00" y="768.60" width="8.70" height="10.70" fill="#0C0B16"/>
<rect x="855.70" y="768.60" width="10.95" height="10.70" fill="#8A8C90"/>
<rect x="866.65" y="768.60" width="1.55" height="10.70" fill="#0C0B16"/>
<rect x="847.00" y="783.70" width="21.20" height="122.60" fill="#FFFFFF"/>
<g clip-path="url(#ec1)">
<rect x="844.55" y="772.60" width="2.40" height="8.00" fill="#000"/>
<rect x="844.55" y="772.60" width="7.90" height="2.40" fill="#000"/>
<rect x="844.55" y="783.88" width="2.40" height="8.00" fill="#000"/>
<rect x="844.55" y="783.88" width="7.90" height="2.40" fill="#000"/>
<rect x="844.55" y="795.16" width="2.40" height="8.00" fill="#000"/>
<rect x="844.55" y="795.16" width="7.90" height="2.40" fill="#000"/>
<rect x="844.55" y="806.44" width="2.40" height="8.00" fill="#000"/>
<rect x="844.55" y="806.44" width="7.90" height="2.40" fill="#000"/>
<rect x="844.55" y="817.72" width="2.40" height="8.00" fill="#000"/>
<rect x="844.55" y="817.72" width="7.90" height="2.40" fill="#000"/>
<rect x="844.55" y="829.00" width="2.40" height="8.00" fill="#000"/>
<rect x="844.55" y="829.00" width="7.90" height="2.40" fill="#000"/>
<rect x="844.55" y="840.28" width="2.40" height="8.00" fill="#000"/>
<rect x="844.55" y="840.28" width="7.90" height="2.40" fill="#000"/>
<rect x="844.55" y="851.56" width="2.40" height="8.00" fill="#000"/>
<rect x="844.55" y="851.56" width="7.90" height="2.40" fill="#000"/>
<rect x="844.55" y="862.84" width="2.40" height="8.00" fill="#000"/>
<rect x="844.55" y="862.84" width="7.90" height="2.40" fill="#000"/>
<rect x="844.55" y="874.12" width="2.40" height="8.00" fill="#000"/>
<rect x="844.55" y="874.12" width="7.90" height="2.40" fill="#000"/>
<rect x="844.55" y="885.40" width="2.40" height="8.00" fill="#000"/>
<rect x="844.55" y="885.40" width="7.90" height="2.40" fill="#000"/>
<rect x="844.55" y="896.68" width="2.40" height="8.00" fill="#000"/>
<rect x="844.55" y="896.68" width="7.90" height="2.40" fill="#000"/>
<rect x="855.50" y="778.24" width="2.40" height="8.00" fill="#000"/>
<rect x="855.50" y="778.24" width="7.90" height="2.40" fill="#000"/>
<rect x="855.50" y="789.52" width="2.40" height="8.00" fill="#000"/>
<rect x="855.50" y="789.52" width="7.90" height="2.40" fill="#000"/>
<rect x="855.50" y="800.80" width="2.40" height="8.00" fill="#000"/>
<rect x="855.50" y="800.80" width="7.90" height="2.40" fill="#000"/>
<rect x="855.50" y="812.08" width="2.40" height="8.00" fill="#000"/>
<rect x="855.50" y="812.08" width="7.90" height="2.40" fill="#000"/>
<rect x="855.50" y="823.36" width="2.40" height="8.00" fill="#000"/>
<rect x="855.50" y="823.36" width="7.90" height="2.40" fill="#000"/>
<rect x="855.50" y="834.64" width="2.40" height="8.00" fill="#000"/>
<rect x="855.50" y="834.64" width="7.90" height="2.40" fill="#000"/>
<rect x="855.50" y="845.92" width="2.40" height="8.00" fill="#000"/>
<rect x="855.50" y="845.92" width="7.90" height="2.40" fill="#000"/>
<rect x="855.50" y="857.20" width="2.40" height="8.00" fill="#000"/>
<rect x="855.50" y="857.20" width="7.90" height="2.40" fill="#000"/>
<rect x="855.50" y="868.48" width="2.40" height="8.00" fill="#000"/>
<rect x="855.50" y="868.48" width="7.90" height="2.40" fill="#000"/>
<rect x="855.50" y="879.76" width="2.40" height="8.00" fill="#000"/>
<rect x="855.50" y="879.76" width="7.90" height="2.40" fill="#000"/>
<rect x="855.50" y="891.04" width="2.40" height="8.00" fill="#000"/>
<rect x="855.50" y="891.04" width="7.90" height="2.40" fill="#000"/>
<rect x="855.50" y="902.32" width="2.40" height="8.00" fill="#000"/>
<rect x="855.50" y="902.32" width="7.90" height="2.40" fill="#000"/>
<rect x="866.45" y="772.60" width="2.40" height="8.00" fill="#000"/>
<rect x="866.45" y="772.60" width="7.90" height="2.40" fill="#000"/>
<rect x="866.45" y="783.88" width="2.40" height="8.00" fill="#000"/>
<rect x="866.45" y="783.88" width="7.90" height="2.40" fill="#000"/>
<rect x="866.45" y="795.16" width="2.40" height="8.00" fill="#000"/>
<rect x="866.45" y="795.16" width="7.90" height="2.40" fill="#000"/>
<rect x="866.45" y="806.44" width="2.40" height="8.00" fill="#000"/>
<rect x="866.45" y="806.44" width="7.90" height="2.40" fill="#000"/>
<rect x="866.45" y="817.72" width="2.40" height="8.00" fill="#000"/>
<rect x="866.45" y="817.72" width="7.90" height="2.40" fill="#000"/>
<rect x="866.45" y="829.00" width="2.40" height="8.00" fill="#000"/>
<rect x="866.45" y="829.00" width="7.90" height="2.40" fill="#000"/>
<rect x="866.45" y="840.28" width="2.40" height="8.00" fill="#000"/>
<rect x="866.45" y="840.28" width="7.90" height="2.40" fill="#000"/>
<rect x="866.45" y="851.56" width="2.40" height="8.00" fill="#000"/>
<rect x="866.45" y="851.56" width="7.90" height="2.40" fill="#000"/>
<rect x="866.45" y="862.84" width="2.40" height="8.00" fill="#000"/>
<rect x="866.45" y="862.84" width="7.90" height="2.40" fill="#000"/>
<rect x="866.45" y="874.12" width="2.40" height="8.00" fill="#000"/>
<rect x="866.45" y="874.12" width="7.90" height="2.40" fill="#000"/>
<rect x="866.45" y="885.40" width="2.40" height="8.00" fill="#000"/>
<rect x="866.45" y="885.40" width="7.90" height="2.40" fill="#000"/>
<rect x="866.45" y="896.68" width="2.40" height="8.00" fill="#000"/>
<rect x="866.45" y="896.68" width="7.90" height="2.40" fill="#000"/>
</g>
<rect x="887.60" y="625.70" width="29.50" height="281.80" fill="#000"/>
<rect x="891.60" y="629.70" width="7.90" height="4.80" fill="#FFFFFF"/>
<rect x="899.50" y="629.70" width="10.95" height="4.80" fill="#6C6E6F"/>
<rect x="910.45" y="629.70" width="2.35" height="4.80" fill="#FFFFFF"/>
<rect x="891.60" y="634.50" width="7.90" height="11.33" fill="#6C6E6F"/>
<rect x="899.50" y="634.50" width="10.95" height="11.33" fill="#FFFFFF"/>
<rect x="910.45" y="634.50" width="2.35" height="11.33" fill="#6C6E6F"/>
<rect x="891.60" y="645.83" width="7.90" height="11.33" fill="#FFFFFF"/>
<rect x="899.50" y="645.83" width="10.95" height="11.33" fill="#6C6E6F"/>
<rect x="910.45" y="645.83" width="2.35" height="11.33" fill="#FFFFFF"/>
<rect x="891.60" y="657.16" width="7.90" height="11.33" fill="#6C6E6F"/>
<rect x="899.50" y="657.16" width="10.95" height="11.33" fill="#FFFFFF"/>
<rect x="910.45" y="657.16" width="2.35" height="11.33" fill="#6C6E6F"/>
<rect x="891.60" y="668.49" width="7.90" height="8.31" fill="#FFFFFF"/>
<rect x="899.50" y="668.49" width="10.95" height="8.31" fill="#6C6E6F"/>
<rect x="910.45" y="668.49" width="2.35" height="8.31" fill="#FFFFFF"/>
<rect x="891.60" y="681.20" width="7.90" height="10.75" fill="#0C0B16"/>
<rect x="899.50" y="681.20" width="10.95" height="10.75" fill="#8A8C90"/>
<rect x="910.45" y="681.20" width="2.35" height="10.75" fill="#0C0B16"/>
<rect x="891.60" y="691.95" width="7.90" height="11.35" fill="#8A8C90"/>
<rect x="899.50" y="691.95" width="10.95" height="11.35" fill="#0C0B16"/>
<rect x="910.45" y="691.95" width="2.35" height="11.35" fill="#8A8C90"/>
<rect x="891.60" y="703.30" width="7.90" height="11.35" fill="#0C0B16"/>
<rect x="899.50" y="703.30" width="10.95" height="11.35" fill="#8A8C90"/>
<rect x="910.45" y="703.30" width="2.35" height="11.35" fill="#0C0B16"/>
<rect x="891.60" y="714.65" width="7.90" height="11.35" fill="#8A8C90"/>
<rect x="899.50" y="714.65" width="10.95" height="11.35" fill="#0C0B16"/>
<rect x="910.45" y="714.65" width="2.35" height="11.35" fill="#8A8C90"/>
<rect x="891.60" y="726.00" width="7.90" height="11.35" fill="#0C0B16"/>
<rect x="899.50" y="726.00" width="10.95" height="11.35" fill="#8A8C90"/>
<rect x="910.45" y="726.00" width="2.35" height="11.35" fill="#0C0B16"/>
<rect x="891.60" y="737.35" width="7.90" height="11.35" fill="#8A8C90"/>
<rect x="899.50" y="737.35" width="10.95" height="11.35" fill="#0C0B16"/>
<rect x="910.45" y="737.35" width="2.35" height="11.35" fill="#8A8C90"/>
<rect x="891.60" y="748.70" width="7.90" height="11.35" fill="#0C0B16"/>
<rect x="899.50" y="748.70" width="10.95" height="11.35" fill="#8A8C90"/>
<rect x="910.45" y="748.70" width="2.35" height="11.35" fill="#0C0B16"/>
<rect x="891.60" y="760.05" width="7.90" height="11.35" fill="#8A8C90"/>
<rect x="899.50" y="760.05" width="10.95" height="11.35" fill="#0C0B16"/>
<rect x="910.45" y="760.05" width="2.35" height="11.35" fill="#8A8C90"/>
<rect x="891.60" y="771.40" width="7.90" height="8.20" fill="#0C0B16"/>
<rect x="899.50" y="771.40" width="10.95" height="8.20" fill="#8A8C90"/>
<rect x="910.45" y="771.40" width="2.35" height="8.20" fill="#0C0B16"/>
<rect x="891.60" y="784.00" width="21.20" height="122.30" fill="#FFFFFF"/>
<g clip-path="url(#ec2)">
<rect x="888.35" y="772.60" width="2.40" height="8.00" fill="#000"/>
<rect x="888.35" y="772.60" width="7.90" height="2.40" fill="#000"/>
<rect x="888.35" y="783.88" width="2.40" height="8.00" fill="#000"/>
<rect x="888.35" y="783.88" width="7.90" height="2.40" fill="#000"/>
<rect x="888.35" y="795.16" width="2.40" height="8.00" fill="#000"/>
<rect x="888.35" y="795.16" width="7.90" height="2.40" fill="#000"/>
<rect x="888.35" y="806.44" width="2.40" height="8.00" fill="#000"/>
<rect x="888.35" y="806.44" width="7.90" height="2.40" fill="#000"/>
<rect x="888.35" y="817.72" width="2.40" height="8.00" fill="#000"/>
<rect x="888.35" y="817.72" width="7.90" height="2.40" fill="#000"/>
<rect x="888.35" y="829.00" width="2.40" height="8.00" fill="#000"/>
<rect x="888.35" y="829.00" width="7.90" height="2.40" fill="#000"/>
<rect x="888.35" y="840.28" width="2.40" height="8.00" fill="#000"/>
<rect x="888.35" y="840.28" width="7.90" height="2.40" fill="#000"/>
<rect x="888.35" y="851.56" width="2.40" height="8.00" fill="#000"/>
<rect x="888.35" y="851.56" width="7.90" height="2.40" fill="#000"/>
<rect x="888.35" y="862.84" width="2.40" height="8.00" fill="#000"/>
<rect x="888.35" y="862.84" width="7.90" height="2.40" fill="#000"/>
<rect x="888.35" y="874.12" width="2.40" height="8.00" fill="#000"/>
<rect x="888.35" y="874.12" width="7.90" height="2.40" fill="#000"/>
<rect x="888.35" y="885.40" width="2.40" height="8.00" fill="#000"/>
<rect x="888.35" y="885.40" width="7.90" height="2.40" fill="#000"/>
<rect x="888.35" y="896.68" width="2.40" height="8.00" fill="#000"/>
<rect x="888.35" y="896.68" width="7.90" height="2.40" fill="#000"/>
<rect x="899.30" y="778.24" width="2.40" height="8.00" fill="#000"/>
<rect x="899.30" y="778.24" width="7.90" height="2.40" fill="#000"/>
<rect x="899.30" y="789.52" width="2.40" height="8.00" fill="#000"/>
<rect x="899.30" y="789.52" width="7.90" height="2.40" fill="#000"/>
<rect x="899.30" y="800.80" width="2.40" height="8.00" fill="#000"/>
<rect x="899.30" y="800.80" width="7.90" height="2.40" fill="#000"/>
<rect x="899.30" y="812.08" width="2.40" height="8.00" fill="#000"/>
<rect x="899.30" y="812.08" width="7.90" height="2.40" fill="#000"/>
<rect x="899.30" y="823.36" width="2.40" height="8.00" fill="#000"/>
<rect x="899.30" y="823.36" width="7.90" height="2.40" fill="#000"/>
<rect x="899.30" y="834.64" width="2.40" height="8.00" fill="#000"/>
<rect x="899.30" y="834.64" width="7.90" height="2.40" fill="#000"/>
<rect x="899.30" y="845.92" width="2.40" height="8.00" fill="#000"/>
<rect x="899.30" y="845.92" width="7.90" height="2.40" fill="#000"/>
<rect x="899.30" y="857.20" width="2.40" height="8.00" fill="#000"/>
<rect x="899.30" y="857.20" width="7.90" height="2.40" fill="#000"/>
<rect x="899.30" y="868.48" width="2.40" height="8.00" fill="#000"/>
<rect x="899.30" y="868.48" width="7.90" height="2.40" fill="#000"/>
<rect x="899.30" y="879.76" width="2.40" height="8.00" fill="#000"/>
<rect x="899.30" y="879.76" width="7.90" height="2.40" fill="#000"/>
<rect x="899.30" y="891.04" width="2.40" height="8.00" fill="#000"/>
<rect x="899.30" y="891.04" width="7.90" height="2.40" fill="#000"/>
<rect x="899.30" y="902.32" width="2.40" height="8.00" fill="#000"/>
<rect x="899.30" y="902.32" width="7.90" height="2.40" fill="#000"/>
<rect x="910.25" y="772.60" width="2.40" height="8.00" fill="#000"/>
<rect x="910.25" y="772.60" width="7.90" height="2.40" fill="#000"/>
<rect x="910.25" y="783.88" width="2.40" height="8.00" fill="#000"/>
<rect x="910.25" y="783.88" width="7.90" height="2.40" fill="#000"/>
<rect x="910.25" y="795.16" width="2.40" height="8.00" fill="#000"/>
<rect x="910.25" y="795.16" width="7.90" height="2.40" fill="#000"/>
<rect x="910.25" y="806.44" width="2.40" height="8.00" fill="#000"/>
<rect x="910.25" y="806.44" width="7.90" height="2.40" fill="#000"/>
<rect x="910.25" y="817.72" width="2.40" height="8.00" fill="#000"/>
<rect x="910.25" y="817.72" width="7.90" height="2.40" fill="#000"/>
<rect x="910.25" y="829.00" width="2.40" height="8.00" fill="#000"/>
<rect x="910.25" y="829.00" width="7.90" height="2.40" fill="#000"/>
<rect x="910.25" y="840.28" width="2.40" height="8.00" fill="#000"/>
<rect x="910.25" y="840.28" width="7.90" height="2.40" fill="#000"/>
<rect x="910.25" y="851.56" width="2.40" height="8.00" fill="#000"/>
<rect x="910.25" y="851.56" width="7.90" height="2.40" fill="#000"/>
<rect x="910.25" y="862.84" width="2.40" height="8.00" fill="#000"/>
<rect x="910.25" y="862.84" width="7.90" height="2.40" fill="#000"/>
<rect x="910.25" y="874.12" width="2.40" height="8.00" fill="#000"/>
<rect x="910.25" y="874.12" width="7.90" height="2.40" fill="#000"/>
<rect x="910.25" y="885.40" width="2.40" height="8.00" fill="#000"/>
<rect x="910.25" y="885.40" width="7.90" height="2.40" fill="#000"/>
<rect x="910.25" y="896.68" width="2.40" height="8.00" fill="#000"/>
<rect x="910.25" y="896.68" width="7.90" height="2.40" fill="#000"/>
</g>
<rect x="932.10" y="625.70" width="29.50" height="281.80" fill="#000"/>
<rect x="936.10" y="629.70" width="7.20" height="4.80" fill="#FFFFFF"/>
<rect x="943.30" y="629.70" width="10.95" height="4.80" fill="#6C6E6F"/>
<rect x="954.25" y="629.70" width="3.05" height="4.80" fill="#FFFFFF"/>
<rect x="936.10" y="634.50" width="7.20" height="11.33" fill="#6C6E6F"/>
<rect x="943.30" y="634.50" width="10.95" height="11.33" fill="#FFFFFF"/>
<rect x="954.25" y="634.50" width="3.05" height="11.33" fill="#6C6E6F"/>
<rect x="936.10" y="645.83" width="7.20" height="7.97" fill="#FFFFFF"/>
<rect x="943.30" y="645.83" width="10.95" height="7.97" fill="#6C6E6F"/>
<rect x="954.25" y="645.83" width="3.05" height="7.97" fill="#FFFFFF"/>
<rect x="936.10" y="658.20" width="7.20" height="10.25" fill="#0C0B16"/>
<rect x="943.30" y="658.20" width="10.95" height="10.25" fill="#8A8C90"/>
<rect x="954.25" y="658.20" width="3.05" height="10.25" fill="#0C0B16"/>
<rect x="936.10" y="668.45" width="7.20" height="11.35" fill="#8A8C90"/>
<rect x="943.30" y="668.45" width="10.95" height="11.35" fill="#0C0B16"/>
<rect x="954.25" y="668.45" width="3.05" height="11.35" fill="#8A8C90"/>
<rect x="936.10" y="679.80" width="7.20" height="11.35" fill="#0C0B16"/>
<rect x="943.30" y="679.80" width="10.95" height="11.35" fill="#8A8C90"/>
<rect x="954.25" y="679.80" width="3.05" height="11.35" fill="#0C0B16"/>
<rect x="936.10" y="691.15" width="7.20" height="11.35" fill="#8A8C90"/>
<rect x="943.30" y="691.15" width="10.95" height="11.35" fill="#0C0B16"/>
<rect x="954.25" y="691.15" width="3.05" height="11.35" fill="#8A8C90"/>
<rect x="936.10" y="702.50" width="7.20" height="11.35" fill="#0C0B16"/>
<rect x="943.30" y="702.50" width="10.95" height="11.35" fill="#8A8C90"/>
<rect x="954.25" y="702.50" width="3.05" height="11.35" fill="#0C0B16"/>
<rect x="936.10" y="713.85" width="7.20" height="11.35" fill="#8A8C90"/>
<rect x="943.30" y="713.85" width="10.95" height="11.35" fill="#0C0B16"/>
<rect x="954.25" y="713.85" width="3.05" height="11.35" fill="#8A8C90"/>
<rect x="936.10" y="725.20" width="7.20" height="11.35" fill="#0C0B16"/>
<rect x="943.30" y="725.20" width="10.95" height="11.35" fill="#8A8C90"/>
<rect x="954.25" y="725.20" width="3.05" height="11.35" fill="#0C0B16"/>
<rect x="936.10" y="736.55" width="7.20" height="11.35" fill="#8A8C90"/>
<rect x="943.30" y="736.55" width="10.95" height="11.35" fill="#0C0B16"/>
<rect x="954.25" y="736.55" width="3.05" height="11.35" fill="#8A8C90"/>
<rect x="936.10" y="747.90" width="7.20" height="5.20" fill="#0C0B16"/>
<rect x="943.30" y="747.90" width="10.95" height="5.20" fill="#8A8C90"/>
<rect x="954.25" y="747.90" width="3.05" height="5.20" fill="#0C0B16"/>
<rect x="936.10" y="757.50" width="21.20" height="148.80" fill="#FFFFFF"/>
<g clip-path="url(#ec3)">
<rect x="932.15" y="750.04" width="2.40" height="8.00" fill="#000"/>
<rect x="932.15" y="750.04" width="7.90" height="2.40" fill="#000"/>
<rect x="932.15" y="761.32" width="2.40" height="8.00" fill="#000"/>
<rect x="932.15" y="761.32" width="7.90" height="2.40" fill="#000"/>
<rect x="932.15" y="772.60" width="2.40" height="8.00" fill="#000"/>
<rect x="932.15" y="772.60" width="7.90" height="2.40" fill="#000"/>
<rect x="932.15" y="783.88" width="2.40" height="8.00" fill="#000"/>
<rect x="932.15" y="783.88" width="7.90" height="2.40" fill="#000"/>
<rect x="932.15" y="795.16" width="2.40" height="8.00" fill="#000"/>
<rect x="932.15" y="795.16" width="7.90" height="2.40" fill="#000"/>
<rect x="932.15" y="806.44" width="2.40" height="8.00" fill="#000"/>
<rect x="932.15" y="806.44" width="7.90" height="2.40" fill="#000"/>
<rect x="932.15" y="817.72" width="2.40" height="8.00" fill="#000"/>
<rect x="932.15" y="817.72" width="7.90" height="2.40" fill="#000"/>
<rect x="932.15" y="829.00" width="2.40" height="8.00" fill="#000"/>
<rect x="932.15" y="829.00" width="7.90" height="2.40" fill="#000"/>
<rect x="932.15" y="840.28" width="2.40" height="8.00" fill="#000"/>
<rect x="932.15" y="840.28" width="7.90" height="2.40" fill="#000"/>
<rect x="932.15" y="851.56" width="2.40" height="8.00" fill="#000"/>
<rect x="932.15" y="851.56" width="7.90" height="2.40" fill="#000"/>
<rect x="932.15" y="862.84" width="2.40" height="8.00" fill="#000"/>
<rect x="932.15" y="862.84" width="7.90" height="2.40" fill="#000"/>
<rect x="932.15" y="874.12" width="2.40" height="8.00" fill="#000"/>
<rect x="932.15" y="874.12" width="7.90" height="2.40" fill="#000"/>
<rect x="932.15" y="885.40" width="2.40" height="8.00" fill="#000"/>
<rect x="932.15" y="885.40" width="7.90" height="2.40" fill="#000"/>
<rect x="932.15" y="896.68" width="2.40" height="8.00" fill="#000"/>
<rect x="932.15" y="896.68" width="7.90" height="2.40" fill="#000"/>
<rect x="943.10" y="755.68" width="2.40" height="8.00" fill="#000"/>
<rect x="943.10" y="755.68" width="7.90" height="2.40" fill="#000"/>
<rect x="943.10" y="766.96" width="2.40" height="8.00" fill="#000"/>
<rect x="943.10" y="766.96" width="7.90" height="2.40" fill="#000"/>
<rect x="943.10" y="778.24" width="2.40" height="8.00" fill="#000"/>
<rect x="943.10" y="778.24" width="7.90" height="2.40" fill="#000"/>
<rect x="943.10" y="789.52" width="2.40" height="8.00" fill="#000"/>
<rect x="943.10" y="789.52" width="7.90" height="2.40" fill="#000"/>
<rect x="943.10" y="800.80" width="2.40" height="8.00" fill="#000"/>
<rect x="943.10" y="800.80" width="7.90" height="2.40" fill="#000"/>
<rect x="943.10" y="812.08" width="2.40" height="8.00" fill="#000"/>
<rect x="943.10" y="812.08" width="7.90" height="2.40" fill="#000"/>
<rect x="943.10" y="823.36" width="2.40" height="8.00" fill="#000"/>
<rect x="943.10" y="823.36" width="7.90" height="2.40" fill="#000"/>
<rect x="943.10" y="834.64" width="2.40" height="8.00" fill="#000"/>
<rect x="943.10" y="834.64" width="7.90" height="2.40" fill="#000"/>
<rect x="943.10" y="845.92" width="2.40" height="8.00" fill="#000"/>
<rect x="943.10" y="845.92" width="7.90" height="2.40" fill="#000"/>
<rect x="943.10" y="857.20" width="2.40" height="8.00" fill="#000"/>
<rect x="943.10" y="857.20" width="7.90" height="2.40" fill="#000"/>
<rect x="943.10" y="868.48" width="2.40" height="8.00" fill="#000"/>
<rect x="943.10" y="868.48" width="7.90" height="2.40" fill="#000"/>
<rect x="943.10" y="879.76" width="2.40" height="8.00" fill="#000"/>
<rect x="943.10" y="879.76" width="7.90" height="2.40" fill="#000"/>
<rect x="943.10" y="891.04" width="2.40" height="8.00" fill="#000"/>
<rect x="943.10" y="891.04" width="7.90" height="2.40" fill="#000"/>
<rect x="943.10" y="902.32" width="2.40" height="8.00" fill="#000"/>
<rect x="943.10" y="902.32" width="7.90" height="2.40" fill="#000"/>
<rect x="954.05" y="750.04" width="2.40" height="8.00" fill="#000"/>
<rect x="954.05" y="750.04" width="7.90" height="2.40" fill="#000"/>
<rect x="954.05" y="761.32" width="2.40" height="8.00" fill="#000"/>
<rect x="954.05" y="761.32" width="7.90" height="2.40" fill="#000"/>
<rect x="954.05" y="772.60" width="2.40" height="8.00" fill="#000"/>
<rect x="954.05" y="772.60" width="7.90" height="2.40" fill="#000"/>
<rect x="954.05" y="783.88" width="2.40" height="8.00" fill="#000"/>
<rect x="954.05" y="783.88" width="7.90" height="2.40" fill="#000"/>
<rect x="954.05" y="795.16" width="2.40" height="8.00" fill="#000"/>
<rect x="954.05" y="795.16" width="7.90" height="2.40" fill="#000"/>
<rect x="954.05" y="806.44" width="2.40" height="8.00" fill="#000"/>
<rect x="954.05" y="806.44" width="7.90" height="2.40" fill="#000"/>
<rect x="954.05" y="817.72" width="2.40" height="8.00" fill="#000"/>
<rect x="954.05" y="817.72" width="7.90" height="2.40" fill="#000"/>
<rect x="954.05" y="829.00" width="2.40" height="8.00" fill="#000"/>
<rect x="954.05" y="829.00" width="7.90" height="2.40" fill="#000"/>
<rect x="954.05" y="840.28" width="2.40" height="8.00" fill="#000"/>
<rect x="954.05" y="840.28" width="7.90" height="2.40" fill="#000"/>
<rect x="954.05" y="851.56" width="2.40" height="8.00" fill="#000"/>
<rect x="954.05" y="851.56" width="7.90" height="2.40" fill="#000"/>
<rect x="954.05" y="862.84" width="2.40" height="8.00" fill="#000"/>
<rect x="954.05" y="862.84" width="7.90" height="2.40" fill="#000"/>
<rect x="954.05" y="874.12" width="2.40" height="8.00" fill="#000"/>
<rect x="954.05" y="874.12" width="7.90" height="2.40" fill="#000"/>
<rect x="954.05" y="885.40" width="2.40" height="8.00" fill="#000"/>
<rect x="954.05" y="885.40" width="7.90" height="2.40" fill="#000"/>
<rect x="954.05" y="896.68" width="2.40" height="8.00" fill="#000"/>
<rect x="954.05" y="896.68" width="7.90" height="2.40" fill="#000"/>
</g>
<rect x="976.40" y="625.70" width="29.50" height="281.80" fill="#000"/>
<rect x="980.40" y="629.70" width="6.70" height="4.80" fill="#FFFFFF"/>
<rect x="987.10" y="629.70" width="10.95" height="4.80" fill="#6C6E6F"/>
<rect x="998.05" y="629.70" width="3.55" height="4.80" fill="#FFFFFF"/>
<rect x="980.40" y="634.50" width="6.70" height="11.33" fill="#6C6E6F"/>
<rect x="987.10" y="634.50" width="10.95" height="11.33" fill="#FFFFFF"/>
<rect x="998.05" y="634.50" width="3.55" height="11.33" fill="#6C6E6F"/>
<rect x="980.40" y="645.83" width="6.70" height="11.33" fill="#FFFFFF"/>
<rect x="987.10" y="645.83" width="10.95" height="11.33" fill="#6C6E6F"/>
<rect x="998.05" y="645.83" width="3.55" height="11.33" fill="#FFFFFF"/>
<rect x="980.40" y="657.16" width="6.70" height="11.33" fill="#6C6E6F"/>
<rect x="987.10" y="657.16" width="10.95" height="11.33" fill="#FFFFFF"/>
<rect x="998.05" y="657.16" width="3.55" height="11.33" fill="#6C6E6F"/>
<rect x="980.40" y="668.49" width="6.70" height="4.11" fill="#FFFFFF"/>
<rect x="987.10" y="668.49" width="10.95" height="4.11" fill="#6C6E6F"/>
<rect x="998.05" y="668.49" width="3.55" height="4.11" fill="#FFFFFF"/>
<rect x="980.40" y="677.00" width="6.70" height="6.55" fill="#0C0B16"/>
<rect x="987.10" y="677.00" width="10.95" height="6.55" fill="#8A8C90"/>
<rect x="998.05" y="677.00" width="3.55" height="6.55" fill="#0C0B16"/>
<rect x="980.40" y="683.55" width="6.70" height="11.35" fill="#8A8C90"/>
<rect x="987.10" y="683.55" width="10.95" height="11.35" fill="#0C0B16"/>
<rect x="998.05" y="683.55" width="3.55" height="11.35" fill="#8A8C90"/>
<rect x="980.40" y="694.90" width="6.70" height="11.35" fill="#0C0B16"/>
<rect x="987.10" y="694.90" width="10.95" height="11.35" fill="#8A8C90"/>
<rect x="998.05" y="694.90" width="3.55" height="11.35" fill="#0C0B16"/>
<rect x="980.40" y="706.25" width="6.70" height="11.35" fill="#8A8C90"/>
<rect x="987.10" y="706.25" width="10.95" height="11.35" fill="#0C0B16"/>
<rect x="998.05" y="706.25" width="3.55" height="11.35" fill="#8A8C90"/>
<rect x="980.40" y="717.60" width="6.70" height="11.35" fill="#0C0B16"/>
<rect x="987.10" y="717.60" width="10.95" height="11.35" fill="#8A8C90"/>
<rect x="998.05" y="717.60" width="3.55" height="11.35" fill="#0C0B16"/>
<rect x="980.40" y="728.95" width="6.70" height="11.35" fill="#8A8C90"/>
<rect x="987.10" y="728.95" width="10.95" height="11.35" fill="#0C0B16"/>
<rect x="998.05" y="728.95" width="3.55" height="11.35" fill="#8A8C90"/>
<rect x="980.40" y="740.30" width="6.70" height="11.35" fill="#0C0B16"/>
<rect x="987.10" y="740.30" width="10.95" height="11.35" fill="#8A8C90"/>
<rect x="998.05" y="740.30" width="3.55" height="11.35" fill="#0C0B16"/>
<rect x="980.40" y="751.65" width="6.70" height="11.35" fill="#8A8C90"/>
<rect x="987.10" y="751.65" width="10.95" height="11.35" fill="#0C0B16"/>
<rect x="998.05" y="751.65" width="3.55" height="11.35" fill="#8A8C90"/>
<rect x="980.40" y="763.00" width="6.70" height="11.35" fill="#0C0B16"/>
<rect x="987.10" y="763.00" width="10.95" height="11.35" fill="#8A8C90"/>
<rect x="998.05" y="763.00" width="3.55" height="11.35" fill="#0C0B16"/>
<rect x="980.40" y="774.35" width="6.70" height="11.35" fill="#8A8C90"/>
<rect x="987.10" y="774.35" width="10.95" height="11.35" fill="#0C0B16"/>
<rect x="998.05" y="774.35" width="3.55" height="11.35" fill="#8A8C90"/>
<rect x="980.40" y="785.70" width="6.70" height="4.10" fill="#0C0B16"/>
<rect x="987.10" y="785.70" width="10.95" height="4.10" fill="#8A8C90"/>
<rect x="998.05" y="785.70" width="3.55" height="4.10" fill="#0C0B16"/>
<rect x="980.40" y="794.20" width="21.20" height="112.10" fill="#FFFFFF"/>
<g clip-path="url(#ec4)">
<rect x="975.95" y="783.88" width="2.40" height="8.00" fill="#000"/>
<rect x="975.95" y="783.88" width="7.90" height="2.40" fill="#000"/>
<rect x="975.95" y="795.16" width="2.40" height="8.00" fill="#000"/>
<rect x="975.95" y="795.16" width="7.90" height="2.40" fill="#000"/>
<rect x="975.95" y="806.44" width="2.40" height="8.00" fill="#000"/>
<rect x="975.95" y="806.44" width="7.90" height="2.40" fill="#000"/>
<rect x="975.95" y="817.72" width="2.40" height="8.00" fill="#000"/>
<rect x="975.95" y="817.72" width="7.90" height="2.40" fill="#000"/>
<rect x="975.95" y="829.00" width="2.40" height="8.00" fill="#000"/>
<rect x="975.95" y="829.00" width="7.90" height="2.40" fill="#000"/>
<rect x="975.95" y="840.28" width="2.40" height="8.00" fill="#000"/>
<rect x="975.95" y="840.28" width="7.90" height="2.40" fill="#000"/>
<rect x="975.95" y="851.56" width="2.40" height="8.00" fill="#000"/>
<rect x="975.95" y="851.56" width="7.90" height="2.40" fill="#000"/>
<rect x="975.95" y="862.84" width="2.40" height="8.00" fill="#000"/>
<rect x="975.95" y="862.84" width="7.90" height="2.40" fill="#000"/>
<rect x="975.95" y="874.12" width="2.40" height="8.00" fill="#000"/>
<rect x="975.95" y="874.12" width="7.90" height="2.40" fill="#000"/>
<rect x="975.95" y="885.40" width="2.40" height="8.00" fill="#000"/>
<rect x="975.95" y="885.40" width="7.90" height="2.40" fill="#000"/>
<rect x="975.95" y="896.68" width="2.40" height="8.00" fill="#000"/>
<rect x="975.95" y="896.68" width="7.90" height="2.40" fill="#000"/>
<rect x="986.90" y="789.52" width="2.40" height="8.00" fill="#000"/>
<rect x="986.90" y="789.52" width="7.90" height="2.40" fill="#000"/>
<rect x="986.90" y="800.80" width="2.40" height="8.00" fill="#000"/>
<rect x="986.90" y="800.80" width="7.90" height="2.40" fill="#000"/>
<rect x="986.90" y="812.08" width="2.40" height="8.00" fill="#000"/>
<rect x="986.90" y="812.08" width="7.90" height="2.40" fill="#000"/>
<rect x="986.90" y="823.36" width="2.40" height="8.00" fill="#000"/>
<rect x="986.90" y="823.36" width="7.90" height="2.40" fill="#000"/>
<rect x="986.90" y="834.64" width="2.40" height="8.00" fill="#000"/>
<rect x="986.90" y="834.64" width="7.90" height="2.40" fill="#000"/>
<rect x="986.90" y="845.92" width="2.40" height="8.00" fill="#000"/>
<rect x="986.90" y="845.92" width="7.90" height="2.40" fill="#000"/>
<rect x="986.90" y="857.20" width="2.40" height="8.00" fill="#000"/>
<rect x="986.90" y="857.20" width="7.90" height="2.40" fill="#000"/>
<rect x="986.90" y="868.48" width="2.40" height="8.00" fill="#000"/>
<rect x="986.90" y="868.48" width="7.90" height="2.40" fill="#000"/>
<rect x="986.90" y="879.76" width="2.40" height="8.00" fill="#000"/>
<rect x="986.90" y="879.76" width="7.90" height="2.40" fill="#000"/>
<rect x="986.90" y="891.04" width="2.40" height="8.00" fill="#000"/>
<rect x="986.90" y="891.04" width="7.90" height="2.40" fill="#000"/>
<rect x="986.90" y="902.32" width="2.40" height="8.00" fill="#000"/>
<rect x="986.90" y="902.32" width="7.90" height="2.40" fill="#000"/>
<rect x="997.85" y="783.88" width="2.40" height="8.00" fill="#000"/>
<rect x="997.85" y="783.88" width="7.90" height="2.40" fill="#000"/>
<rect x="997.85" y="795.16" width="2.40" height="8.00" fill="#000"/>
<rect x="997.85" y="795.16" width="7.90" height="2.40" fill="#000"/>
<rect x="997.85" y="806.44" width="2.40" height="8.00" fill="#000"/>
<rect x="997.85" y="806.44" width="7.90" height="2.40" fill="#000"/>
<rect x="997.85" y="817.72" width="2.40" height="8.00" fill="#000"/>
<rect x="997.85" y="817.72" width="7.90" height="2.40" fill="#000"/>
<rect x="997.85" y="829.00" width="2.40" height="8.00" fill="#000"/>
<rect x="997.85" y="829.00" width="7.90" height="2.40" fill="#000"/>
<rect x="997.85" y="840.28" width="2.40" height="8.00" fill="#000"/>
<rect x="997.85" y="840.28" width="7.90" height="2.40" fill="#000"/>
<rect x="997.85" y="851.56" width="2.40" height="8.00" fill="#000"/>
<rect x="997.85" y="851.56" width="7.90" height="2.40" fill="#000"/>
<rect x="997.85" y="862.84" width="2.40" height="8.00" fill="#000"/>
<rect x="997.85" y="862.84" width="7.90" height="2.40" fill="#000"/>
<rect x="997.85" y="874.12" width="2.40" height="8.00" fill="#000"/>
<rect x="997.85" y="874.12" width="7.90" height="2.40" fill="#000"/>
<rect x="997.85" y="885.40" width="2.40" height="8.00" fill="#000"/>
<rect x="997.85" y="885.40" width="7.90" height="2.40" fill="#000"/>
<rect x="997.85" y="896.68" width="2.40" height="8.00" fill="#000"/>
<rect x="997.85" y="896.68" width="7.90" height="2.40" fill="#000"/>
</g>
<rect x="1019.80" y="625.70" width="29.50" height="281.80" fill="#000"/>
<rect x="1023.80" y="629.70" width="7.10" height="4.80" fill="#FFFFFF"/>
<rect x="1030.90" y="629.70" width="10.95" height="4.80" fill="#6C6E6F"/>
<rect x="1041.85" y="629.70" width="3.15" height="4.80" fill="#FFFFFF"/>
<rect x="1023.80" y="634.50" width="7.10" height="11.33" fill="#6C6E6F"/>
<rect x="1030.90" y="634.50" width="10.95" height="11.33" fill="#FFFFFF"/>
<rect x="1041.85" y="634.50" width="3.15" height="11.33" fill="#6C6E6F"/>
<rect x="1023.80" y="645.83" width="7.10" height="11.33" fill="#FFFFFF"/>
<rect x="1030.90" y="645.83" width="10.95" height="11.33" fill="#6C6E6F"/>
<rect x="1041.85" y="645.83" width="3.15" height="11.33" fill="#FFFFFF"/>
<rect x="1023.80" y="657.16" width="7.10" height="4.14" fill="#6C6E6F"/>
<rect x="1030.90" y="657.16" width="10.95" height="4.14" fill="#FFFFFF"/>
<rect x="1041.85" y="657.16" width="3.15" height="4.14" fill="#6C6E6F"/>
<rect x="1023.80" y="665.70" width="7.10" height="5.30" fill="#8A8C90"/>
<rect x="1030.90" y="665.70" width="10.95" height="5.30" fill="#0C0B16"/>
<rect x="1041.85" y="665.70" width="3.15" height="5.30" fill="#8A8C90"/>
<rect x="1023.80" y="671.00" width="7.10" height="11.35" fill="#0C0B16"/>
<rect x="1030.90" y="671.00" width="10.95" height="11.35" fill="#8A8C90"/>
<rect x="1041.85" y="671.00" width="3.15" height="11.35" fill="#0C0B16"/>
<rect x="1023.80" y="682.35" width="7.10" height="11.35" fill="#8A8C90"/>
<rect x="1030.90" y="682.35" width="10.95" height="11.35" fill="#0C0B16"/>
<rect x="1041.85" y="682.35" width="3.15" height="11.35" fill="#8A8C90"/>
<rect x="1023.80" y="693.70" width="7.10" height="11.35" fill="#0C0B16"/>
<rect x="1030.90" y="693.70" width="10.95" height="11.35" fill="#8A8C90"/>
<rect x="1041.85" y="693.70" width="3.15" height="11.35" fill="#0C0B16"/>
<rect x="1023.80" y="705.05" width="7.10" height="11.35" fill="#8A8C90"/>
<rect x="1030.90" y="705.05" width="10.95" height="11.35" fill="#0C0B16"/>
<rect x="1041.85" y="705.05" width="3.15" height="11.35" fill="#8A8C90"/>
<rect x="1023.80" y="716.40" width="7.10" height="11.35" fill="#0C0B16"/>
<rect x="1030.90" y="716.40" width="10.95" height="11.35" fill="#8A8C90"/>
<rect x="1041.85" y="716.40" width="3.15" height="11.35" fill="#0C0B16"/>
<rect x="1023.80" y="727.75" width="7.10" height="11.35" fill="#8A8C90"/>
<rect x="1030.90" y="727.75" width="10.95" height="11.35" fill="#0C0B16"/>
<rect x="1041.85" y="727.75" width="3.15" height="11.35" fill="#8A8C90"/>
<rect x="1023.80" y="739.10" width="7.10" height="11.35" fill="#0C0B16"/>
<rect x="1030.90" y="739.10" width="10.95" height="11.35" fill="#8A8C90"/>
<rect x="1041.85" y="739.10" width="3.15" height="11.35" fill="#0C0B16"/>
<rect x="1023.80" y="750.45" width="7.10" height="11.35" fill="#8A8C90"/>
<rect x="1030.90" y="750.45" width="10.95" height="11.35" fill="#0C0B16"/>
<rect x="1041.85" y="750.45" width="3.15" height="11.35" fill="#8A8C90"/>
<rect x="1023.80" y="761.80" width="7.10" height="11.35" fill="#0C0B16"/>
<rect x="1030.90" y="761.80" width="10.95" height="11.35" fill="#8A8C90"/>
<rect x="1041.85" y="761.80" width="3.15" height="11.35" fill="#0C0B16"/>
<rect x="1023.80" y="773.15" width="7.10" height="11.35" fill="#8A8C90"/>
<rect x="1030.90" y="773.15" width="10.95" height="11.35" fill="#0C0B16"/>
<rect x="1041.85" y="773.15" width="3.15" height="11.35" fill="#8A8C90"/>
<rect x="1023.80" y="784.50" width="7.10" height="11.35" fill="#0C0B16"/>
<rect x="1030.90" y="784.50" width="10.95" height="11.35" fill="#8A8C90"/>
<rect x="1041.85" y="784.50" width="3.15" height="11.35" fill="#0C0B16"/>
<rect x="1023.80" y="795.85" width="7.10" height="11.35" fill="#8A8C90"/>
<rect x="1030.90" y="795.85" width="10.95" height="11.35" fill="#0C0B16"/>
<rect x="1041.85" y="795.85" width="3.15" height="11.35" fill="#8A8C90"/>
<rect x="1023.80" y="807.20" width="7.10" height="11.35" fill="#0C0B16"/>
<rect x="1030.90" y="807.20" width="10.95" height="11.35" fill="#8A8C90"/>
<rect x="1041.85" y="807.20" width="3.15" height="11.35" fill="#0C0B16"/>
<rect x="1023.80" y="818.55" width="7.10" height="11.35" fill="#8A8C90"/>
<rect x="1030.90" y="818.55" width="10.95" height="11.35" fill="#0C0B16"/>
<rect x="1041.85" y="818.55" width="3.15" height="11.35" fill="#8A8C90"/>
<rect x="1023.80" y="829.90" width="7.10" height="7.90" fill="#0C0B16"/>
<rect x="1030.90" y="829.90" width="10.95" height="7.90" fill="#8A8C90"/>
<rect x="1041.85" y="829.90" width="3.15" height="7.90" fill="#0C0B16"/>
<rect x="1023.80" y="842.20" width="21.20" height="64.10" fill="#FFFFFF"/>
<g clip-path="url(#ec5)">
<rect x="1019.75" y="840.28" width="2.40" height="8.00" fill="#000"/>
<rect x="1019.75" y="840.28" width="7.90" height="2.40" fill="#000"/>
<rect x="1019.75" y="851.56" width="2.40" height="8.00" fill="#000"/>
<rect x="1019.75" y="851.56" width="7.90" height="2.40" fill="#000"/>
<rect x="1019.75" y="862.84" width="2.40" height="8.00" fill="#000"/>
<rect x="1019.75" y="862.84" width="7.90" height="2.40" fill="#000"/>
<rect x="1019.75" y="874.12" width="2.40" height="8.00" fill="#000"/>
<rect x="1019.75" y="874.12" width="7.90" height="2.40" fill="#000"/>
<rect x="1019.75" y="885.40" width="2.40" height="8.00" fill="#000"/>
<rect x="1019.75" y="885.40" width="7.90" height="2.40" fill="#000"/>
<rect x="1019.75" y="896.68" width="2.40" height="8.00" fill="#000"/>
<rect x="1019.75" y="896.68" width="7.90" height="2.40" fill="#000"/>
<rect x="1030.70" y="834.64" width="2.40" height="8.00" fill="#000"/>
<rect x="1030.70" y="834.64" width="7.90" height="2.40" fill="#000"/>
<rect x="1030.70" y="845.92" width="2.40" height="8.00" fill="#000"/>
<rect x="1030.70" y="845.92" width="7.90" height="2.40" fill="#000"/>
<rect x="1030.70" y="857.20" width="2.40" height="8.00" fill="#000"/>
<rect x="1030.70" y="857.20" width="7.90" height="2.40" fill="#000"/>
<rect x="1030.70" y="868.48" width="2.40" height="8.00" fill="#000"/>
<rect x="1030.70" y="868.48" width="7.90" height="2.40" fill="#000"/>
<rect x="1030.70" y="879.76" width="2.40" height="8.00" fill="#000"/>
<rect x="1030.70" y="879.76" width="7.90" height="2.40" fill="#000"/>
<rect x="1030.70" y="891.04" width="2.40" height="8.00" fill="#000"/>
<rect x="1030.70" y="891.04" width="7.90" height="2.40" fill="#000"/>
<rect x="1030.70" y="902.32" width="2.40" height="8.00" fill="#000"/>
<rect x="1030.70" y="902.32" width="7.90" height="2.40" fill="#000"/>
<rect x="1041.65" y="840.28" width="2.40" height="8.00" fill="#000"/>
<rect x="1041.65" y="840.28" width="7.90" height="2.40" fill="#000"/>
<rect x="1041.65" y="851.56" width="2.40" height="8.00" fill="#000"/>
<rect x="1041.65" y="851.56" width="7.90" height="2.40" fill="#000"/>
<rect x="1041.65" y="862.84" width="2.40" height="8.00" fill="#000"/>
<rect x="1041.65" y="862.84" width="7.90" height="2.40" fill="#000"/>
<rect x="1041.65" y="874.12" width="2.40" height="8.00" fill="#000"/>
<rect x="1041.65" y="874.12" width="7.90" height="2.40" fill="#000"/>
<rect x="1041.65" y="885.40" width="2.40" height="8.00" fill="#000"/>
<rect x="1041.65" y="885.40" width="7.90" height="2.40" fill="#000"/>
<rect x="1041.65" y="896.68" width="2.40" height="8.00" fill="#000"/>
<rect x="1041.65" y="896.68" width="7.90" height="2.40" fill="#000"/>
</g>
<defs><clipPath id="ec0"><rect x="802.70" y="733.20" width="21.20" height="173.10"/></clipPath><clipPath id="ec1"><rect x="847.00" y="783.70" width="21.20" height="122.60"/></clipPath><clipPath id="ec2"><rect x="891.60" y="784.00" width="21.20" height="122.30"/></clipPath><clipPath id="ec3"><rect x="936.10" y="757.50" width="21.20" height="148.80"/></clipPath><clipPath id="ec4"><rect x="980.40" y="794.20" width="21.20" height="112.10"/></clipPath><clipPath id="ec5"><rect x="1023.80" y="842.20" width="21.20" height="64.10"/></clipPath></defs>
<rect x="1126.90" y="635.10" width="34.10" height="16.30" fill="#000"/>
<rect x="1130.70" y="639.30" width="4.80" height="8.20" fill="#6C6E6F"/>
<rect x="1135.50" y="639.30" width="11.70" height="8.20" fill="#fff"/>
<rect x="1147.20" y="639.30" width="10.30" height="8.20" fill="#6C6E6F"/>
<rect x="1130.70" y="647.50" width="26.80" height="0.80" fill="#fff"/>
<rect x="1126.90" y="677.80" width="34.10" height="20.40" fill="#000"/>
<rect x="1130.70" y="682.00" width="4.80" height="4.80" fill="#8A8C90"/>
<rect x="1135.50" y="682.00" width="11.70" height="4.80" fill="#0C0B16"/>
<rect x="1147.20" y="682.00" width="10.30" height="4.80" fill="#8A8C90"/>
<rect x="1130.70" y="686.80" width="4.80" height="7.60" fill="#0C0B16"/>
<rect x="1135.50" y="686.80" width="11.70" height="7.60" fill="#8A8C90"/>
<rect x="1147.20" y="686.80" width="10.30" height="7.60" fill="#0C0B16"/>
<rect x="1126.90" y="717.10" width="34.10" height="20.20" fill="#000"/>
<rect x="1131.00" y="721.20" width="25.90" height="11.90" fill="#fff"/>
<g clip-path="url(#lg0)">
<rect x="1135.30" y="726.00" width="3.00" height="8.00" fill="#000"/>
<rect x="1135.30" y="726.00" width="8.50" height="2.50" fill="#000"/>
<rect x="1147.10" y="720.40" width="3.00" height="8.00" fill="#000"/>
<rect x="1147.10" y="720.40" width="8.50" height="2.50" fill="#000"/>
<rect x="1147.10" y="731.70" width="3.00" height="8.00" fill="#000"/>
<rect x="1147.10" y="731.70" width="8.50" height="2.50" fill="#000"/>
<rect x="1135.30" y="714.70" width="3.00" height="8.00" fill="#000"/>
<rect x="1135.30" y="714.70" width="8.50" height="2.50" fill="#000"/>
<rect x="1123.50" y="720.40" width="3.00" height="8.00" fill="#000"/>
<rect x="1123.50" y="720.40" width="8.50" height="2.50" fill="#000"/>
<rect x="1123.50" y="731.70" width="3.00" height="8.00" fill="#000"/>
<rect x="1123.50" y="731.70" width="8.50" height="2.50" fill="#000"/>
<rect x="1131.00" y="721.20" width="5.00" height="2.20" fill="#000"/>
</g>
<defs><clipPath id="lg0"><rect x="1131.0" y="721.2" width="25.9" height="11.9"/></clipPath></defs>
<text transform="translate(1176.00,654.80) scale(1,0.8)" font-size="22.5" font-weight="normal" text-anchor="start" >≥</text>
<text transform="translate(1188.60,655.30) scale(1,1.05)" font-size="22.5" font-weight="normal" text-anchor="start" >3</text>
<text transform="translate(1205.00,655.10) scale(1,1.08)" font-size="22.7" font-weight="normal" text-anchor="start" >CTC</text>
<text transform="translate(1177.00,695.70) scale(1,1.08)" font-size="22.8" font-weight="normal" text-anchor="start" >1-2 CTC</text>
<text transform="translate(1177.00,735.00) scale(1,1.08)" font-size="22.8" font-weight="normal" text-anchor="start" >0 CTC</text>
</svg>
</body></html>
